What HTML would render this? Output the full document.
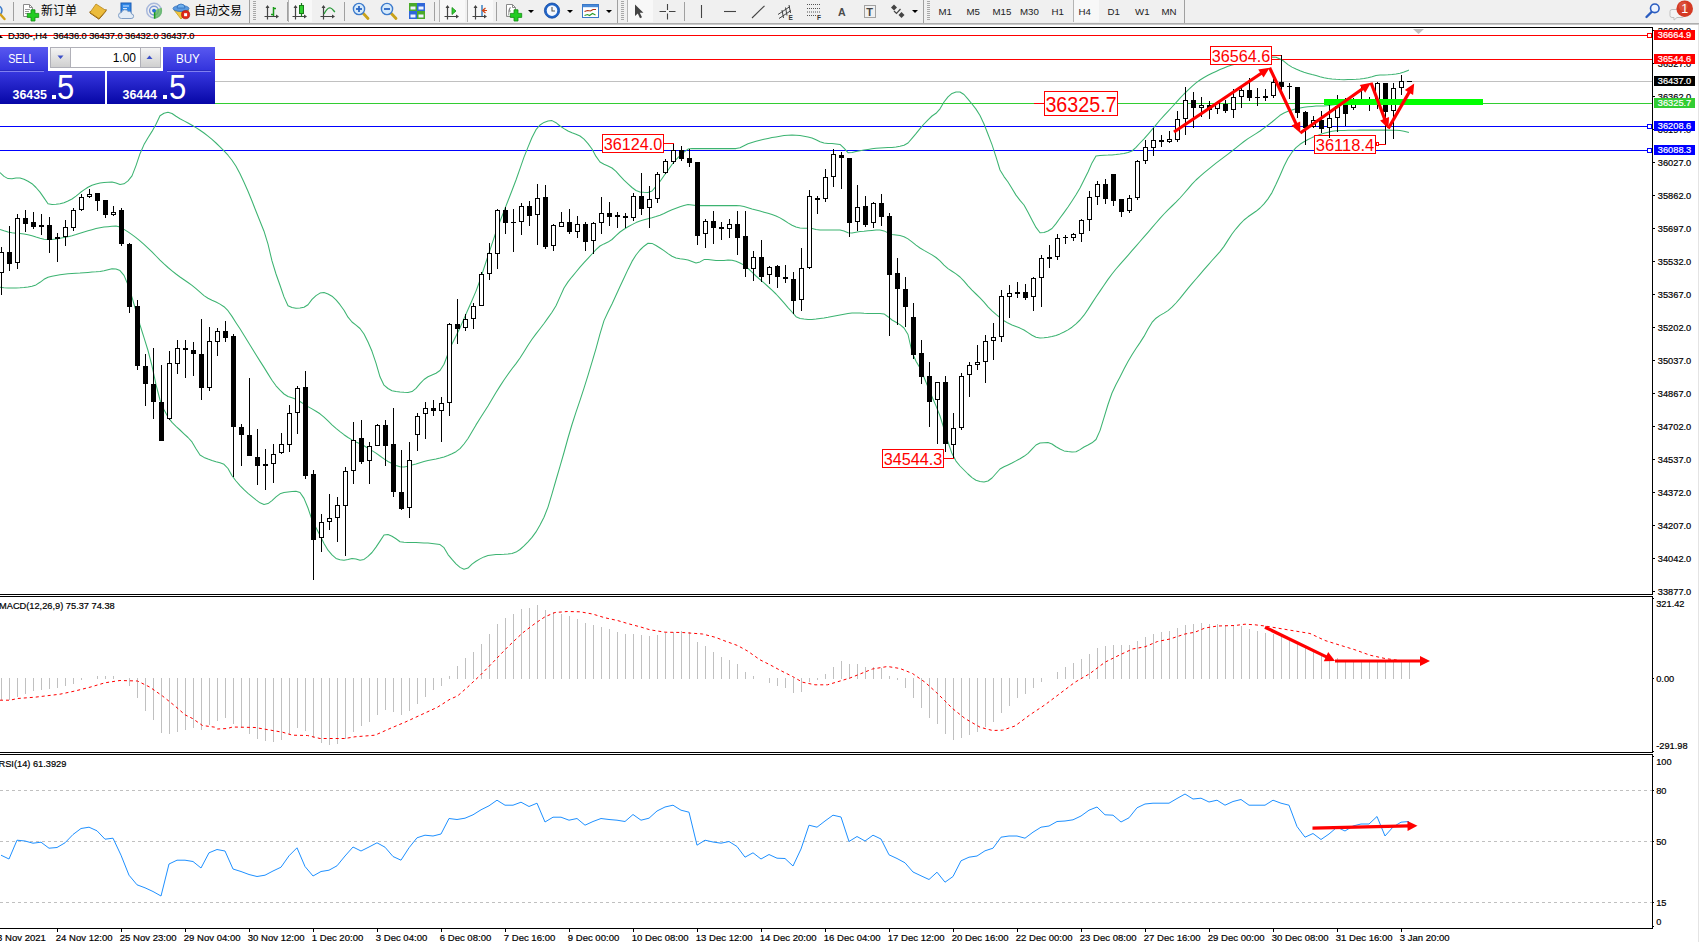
<!DOCTYPE html>
<html><head><meta charset="utf-8"><title>DJ30-,H4</title>
<style>
html,body{margin:0;padding:0;background:#fff;}
body{width:1699px;height:942px;overflow:hidden;position:relative;font-family:"Liberation Sans","Noto Sans CJK SC",sans-serif;}
#tb{position:absolute;left:0;top:0;width:1699px;height:23px;background:#f0f0f0;}
#tbsh{position:absolute;left:0;top:23px;width:1699px;height:2px;background:linear-gradient(#a0a0a0,#d8d8d8);}
#edge{position:absolute;left:1698px;top:25px;width:1px;height:917px;background:#e4e4e4;}
svg text{font-family:"Liberation Sans","Noto Sans CJK SC",sans-serif;}
.tbt{position:absolute;top:0;height:23px;line-height:22.5px;font-size:12px;color:#000;white-space:nowrap;}
.tf{position:absolute;top:0;height:23px;line-height:24px;font-size:9.7px;color:#222;white-space:nowrap;}
.sep{position:absolute;top:2px;width:1px;height:19px;background:#a0a0a0;}
.grip{position:absolute;top:1px;width:3px;height:19px;background:repeating-linear-gradient(#a8a8a8 0 1px,#f0f0f0 1px 2px);}
.act{position:absolute;top:0;height:22px;background:#f8f8f8;border-left:1px solid #b4b4b4;box-sizing:border-box;}
#trade{position:absolute;left:0;top:47px;width:215px;height:57px;}
.bl{position:absolute;background:linear-gradient(#3838e0,#0606a6);}
.btn{position:absolute;color:#fff;font-size:12.5px;line-height:25px;text-align:center;background:linear-gradient(#5858f0,#3232dc);}
.sm{position:absolute;color:#fff;font-weight:bold;font-size:12.4px;line-height:14px;}
.big{position:absolute;color:#fff;font-size:34.5px;line-height:34px;transform:scaleX(0.9);transform-origin:0 0;}
.dot{position:absolute;width:4px;height:4px;background:#fff;}
</style></head><body>
<div id="tb"></div><div id="tbsh"></div><div id="edge"></div>
<div class="act" style="left:288px;width:24px"></div>
<div class="act" style="left:439px;width:26px"></div>
<div class="act" style="left:467px;width:26px"></div>
<div class="act" style="left:627px;width:26px"></div>
<div class="act" style="left:1073px;width:26px"></div>
<div class="sep" style="left:13px"></div>
<div class="sep" style="left:249px;top:0;height:23px"></div>
<div class="sep" style="left:287px"></div>
<div class="sep" style="left:344px"></div>
<div class="sep" style="left:434px"></div>
<div class="sep" style="left:496px"></div>
<div class="sep" style="left:617px;top:0;height:23px"></div>
<div class="sep" style="left:684px"></div>
<div class="sep" style="left:923px;top:0;height:23px"></div>
<div class="sep" style="left:1184px;top:0;height:23px"></div>
<div class="grip" style="left:253px"></div>
<div class="grip" style="left:621px"></div>
<div class="grip" style="left:927px"></div>
<svg style="position:absolute;left:0px;top:3px" width="8" height="18" viewBox="0 0 8 18"><circle cx="-2.5" cy="7.5" r="4.5" fill="#cfe6fa" stroke="#3c78c8" stroke-width="1.5"/><line x1="0.5" y1="11.5" x2="4.5" y2="16" stroke="#d4a017" stroke-width="2.4" stroke-linecap="round"/></svg>
<svg style="position:absolute;left:22px;top:3px" width="18" height="19" viewBox="0 0 18 19"><path d="M1.5 1.5h6l3 3v9h-9z" fill="#fff" stroke="#8a8a8a"/><path d="M7.5 1.5v3h3" fill="none" stroke="#8a8a8a"/><path d="M3 6.5h5M3 8.5h4M3 10.5h3" stroke="#9a9a9a" stroke-width="1"/><path d="M9 6.8h4v3.6h3.7v4h-3.7v3.6h-4v-3.6h-3.7v-4h3.7z" fill="#22cc22" stroke="#128a12" stroke-width="0.8"/></svg>
<div class="tbt" style="left:41px">新订单</div>
<svg style="position:absolute;left:89px;top:3px" width="18" height="17" viewBox="0 0 18 17"><path d="M1 10l9 6.2 7-8.2v-1.5l-7 8-9-6z" fill="#8a5a10" stroke="#8a5a10" stroke-width="1"/><path d="M7 1l10 6.5-7 8-9-6z" fill="#ecbc3c" stroke="#b8861c" stroke-width="0.8"/></svg>
<svg style="position:absolute;left:117px;top:2px" width="18" height="18" viewBox="0 0 18 18"><rect x="4" y="1" width="10" height="10" fill="#2f86e6" stroke="#1c5cb4"/><path d="M6 4h6M6 6.5h4" stroke="#cfe4ff"/><path d="M4.5 16.5a3 3 0 0 1 0-6 3.6 3.6 0 0 1 6.6-1 2.6 2.6 0 0 1 3.4 2.4 2.3 2.3 0 0 1-.4 4.6z" fill="#e3ecf6" stroke="#7d9cc4" stroke-width="1"/></svg>
<svg style="position:absolute;left:145px;top:2px" width="18" height="18" viewBox="0 0 18 18"><circle cx="9" cy="8.6" r="7.3" fill="none" stroke="#a9b9dc" stroke-width="1.5"/><circle cx="9" cy="8.6" r="4.4" fill="none" stroke="#7f9ad6" stroke-width="1.4"/><path d="M9 8.6L16.6 5.8A8.1 8.1 0 0 1 9 16.7z" fill="#5cb85c" opacity="0.8"/><path d="M9.6 9v7.6" stroke="#1a9a1a" stroke-width="1.5"/><circle cx="9" cy="8.6" r="1.9" fill="#2a6fd4"/></svg>
<svg style="position:absolute;left:172px;top:2px" width="19" height="18" viewBox="0 0 19 18"><path d="M2 8l7 9 8-9z" fill="#f2c63c" stroke="#c89a1c" stroke-width="0.8"/><ellipse cx="9" cy="6.5" rx="8" ry="3" fill="#5a9ae0" stroke="#2f6cb8" stroke-width="0.8"/><path d="M5 6a4 4 0 0 1 8 0z" fill="#6fb0ee" stroke="#2f6cb8" stroke-width="0.8"/><circle cx="13.6" cy="12.7" r="4.1" fill="#e02818" stroke="#a01208" stroke-width="0.6"/><rect x="12.1" y="11.2" width="3" height="3" fill="#fff"/></svg>
<div class="tbt" style="left:194px">自动交易</div>
<svg style="position:absolute;left:264px;top:4px" width="16" height="17" viewBox="0 0 16 17"><path d="M3.5 2v13.5M0.5 12.5h13" stroke="#444" stroke-width="1.2" fill="none"/><path d="M3.5 1l-2 3h4zM15 12.5l-3-2v4z" fill="#444"/><path d="M9.5 3v9M9.5 4.5h2.5M7 10.5h2.5" stroke="#1a9a1a" stroke-width="1.5" fill="none"/></svg>
<svg style="position:absolute;left:292px;top:2px" width="16" height="19" viewBox="0 0 16 19"><g transform="translate(0,2)"><path d="M3.5 2v13.5M0.5 12.5h13" stroke="#444" stroke-width="1.2" fill="none"/><path d="M3.5 1l-2 3h4zM15 12.5l-3-2v4z" fill="#444"/></g><path d="M9.5 1v14" stroke="#1a7a1a" stroke-width="1.2"/><rect x="7.5" y="3.5" width="4" height="8" fill="#2fd02f" stroke="#1a7a1a"/></svg>
<svg style="position:absolute;left:320px;top:4px" width="16" height="17" viewBox="0 0 16 17"><path d="M3.5 2v13.5M0.5 12.5h13" stroke="#444" stroke-width="1.2" fill="none"/><path d="M3.5 1l-2 3h4zM15 12.5l-3-2v4z" fill="#444"/><path d="M4 10c2-4 4-7 6.5-6s3 3 4.5 4" stroke="#2a9a3a" stroke-width="1.3" fill="none"/></svg>
<svg style="position:absolute;left:352px;top:2px" width="19" height="19" viewBox="0 0 19 19"><line x1="10" y1="10" x2="16" y2="16.5" stroke="#c9a21a" stroke-width="2.8" stroke-linecap="round"/><circle cx="7" cy="7" r="5.6" fill="#d6eafb" stroke="#3c7acc" stroke-width="1.4"/><path d="M4 7h6" stroke="#2b66c4" stroke-width="1.8"/><path d="M7 4v6" stroke="#2b66c4" stroke-width="1.8"/></svg>
<svg style="position:absolute;left:380px;top:2px" width="19" height="19" viewBox="0 0 19 19"><line x1="10" y1="10" x2="16" y2="16.5" stroke="#c9a21a" stroke-width="2.8" stroke-linecap="round"/><circle cx="7" cy="7" r="5.6" fill="#d6eafb" stroke="#3c7acc" stroke-width="1.4"/><path d="M4 7h6" stroke="#2b66c4" stroke-width="1.8"/></svg>
<svg style="position:absolute;left:409px;top:3px" width="17" height="16" viewBox="0 0 17 16"><rect x="0" y="0" width="8" height="8" fill="#4aaa28"/><rect x="8" y="0" width="8" height="8" fill="#2f66d8"/><rect x="0" y="8" width="8" height="8" fill="#2f66d8"/><rect x="8" y="8" width="8" height="8" fill="#4aaa28"/><g fill="#eef4ff"><rect x="1.5" y="3.5" width="5" height="3"/><rect x="9.5" y="3.5" width="5" height="3"/><rect x="1.5" y="11.5" width="5" height="3"/><rect x="9.5" y="11.5" width="5" height="3"/></g></svg>
<svg style="position:absolute;left:444px;top:4px" width="16" height="17" viewBox="0 0 16 17"><path d="M3.5 2v13.5M0.5 12.5h13" stroke="#444" stroke-width="1.2" fill="none"/><path d="M3.5 1l-2 3h4zM15 12.5l-3-2v4z" fill="#444"/><path d="M8 3.5l4 3.5-4 3.5z" fill="#2fd02f" stroke="#1a8a1a" stroke-width="0.8"/></svg>
<svg style="position:absolute;left:472px;top:4px" width="16" height="17" viewBox="0 0 16 17"><path d="M3.5 2v13.5M0.5 12.5h13" stroke="#444" stroke-width="1.2" fill="none"/><path d="M3.5 1l-2 3h4zM15 12.5l-3-2v4z" fill="#444"/><path d="M10 1v11" stroke="#1f6fb8" stroke-width="1.3"/><path d="M15 6.5h-3.5M13.5 4l-3 2.5 3 2.5" stroke="#d04010" stroke-width="1.2" fill="none"/></svg>
<svg style="position:absolute;left:505px;top:3px" width="18" height="19" viewBox="0 0 18 19"><path d="M1.5 1.5h6l3 3v9h-9z" fill="#fff" stroke="#8a8a8a"/><path d="M7.5 1.5v3h3" fill="none" stroke="#8a8a8a"/><path d="M5.5 4.5c-2 0-1 6-2.5 8M3 8h3" stroke="#9a9a9a" stroke-width="1"/><path d="M9 6.8h4v3.6h3.7v4h-3.7v3.6h-4v-3.6h-3.7v-4h3.7z" fill="#22cc22" stroke="#128a12" stroke-width="0.8"/></svg>
<svg style="position:absolute;left:528px;top:10px" width="6" height="3" viewBox="0 0 6 3"><path d="M0 0h6l-3 3z" fill="#000"/></svg>
<svg style="position:absolute;left:543px;top:2px" width="18" height="18" viewBox="0 0 18 18"><circle cx="9" cy="8.6" r="7.6" fill="#1f64c8" stroke="#1448a0" stroke-width="0.8"/><circle cx="9" cy="8.6" r="5.3" fill="#f4f8ff"/><path d="M9 5v4h3" stroke="#555" stroke-width="1.1" fill="none"/></svg>
<svg style="position:absolute;left:567px;top:10px" width="6" height="3" viewBox="0 0 6 3"><path d="M0 0h6l-3 3z" fill="#000"/></svg>
<svg style="position:absolute;left:582px;top:4px" width="18" height="14" viewBox="0 0 18 14"><rect x="0.5" y="0.5" width="16" height="13" fill="#fff" stroke="#3a78c8"/><rect x="1" y="1" width="15" height="2.2" fill="#4a8ad8"/><path d="M2.5 7.5l3-1 3 .5 2.5-1.5 3 0" stroke="#b03010" stroke-width="1.1" fill="none"/><path d="M2.5 11.5l3-1 2 1 3-2 3 1.5" stroke="#2a9a2a" stroke-width="1.1" fill="none"/></svg>
<svg style="position:absolute;left:606px;top:10px" width="6" height="3" viewBox="0 0 6 3"><path d="M0 0h6l-3 3z" fill="#000"/></svg>
<svg style="position:absolute;left:634px;top:4px" width="10" height="15" viewBox="0 0 10 15"><path d="M1 0.5v11.5l2.8-2.4 2.2 4.6 2-1-2.2-4.4h3.6z" fill="#444"/></svg>
<svg style="position:absolute;left:659px;top:4px" width="17" height="16" viewBox="0 0 17 16"><path d="M8.5 0v6M8.5 9.5v6M0.5 7.5h6.5M10 7.5h6.5" stroke="#444" stroke-width="1.1"/></svg>
<svg style="position:absolute;left:700px;top:5px" width="3" height="13" viewBox="0 0 3 13"><path d="M1.5 0v13" stroke="#444" stroke-width="1.1"/></svg>
<svg style="position:absolute;left:724px;top:10px" width="13" height="3" viewBox="0 0 13 3"><path d="M0 1.5h12" stroke="#444" stroke-width="1.1"/></svg>
<svg style="position:absolute;left:751px;top:5px" width="15" height="14" viewBox="0 0 15 14"><path d="M1 13L13.5 0.8" stroke="#444" stroke-width="1.1"/></svg>
<svg style="position:absolute;left:777px;top:3px" width="18" height="18" viewBox="0 0 18 18"><path d="M1 11.5L13 3.5M2 15.5L14 7.5M5 7l1.5 8M8.5 4.5l1.5 8M12 2l1.5 8" stroke="#444" stroke-width="1"/><text x="11.5" y="17" font-size="6.5" font-weight="bold" fill="#333">E</text></svg>
<svg style="position:absolute;left:806px;top:3px" width="18" height="18" viewBox="0 0 18 18"><path d="M1 1.5h13M1 5.5h13M1 9h13M1 12.5h10" stroke="#555" stroke-width="1" stroke-dasharray="1,1"/><text x="11" y="17" font-size="6.5" font-weight="bold" fill="#333">F</text></svg>
<div class="tf" style="left:837.5px;font-size:11.5px;color:#4a4a4a;top:0;line-height:25px;font-weight:bold;transform:scaleX(0.92);transform-origin:0 0">A</div>
<svg style="position:absolute;left:863px;top:4px" width="14" height="15" viewBox="0 0 14 15"><rect x="1.5" y="1.5" width="11" height="12" fill="none" stroke="#555" stroke-width="1" stroke-dasharray="1,1"/><text x="3.2" y="11.6" font-size="11" font-weight="bold" fill="#444">T</text></svg>
<svg style="position:absolute;left:890px;top:4px" width="16" height="15" viewBox="0 0 16 15"><path d="M4 0.5l3 3-3 3-3-3z" fill="#444"/><path d="M11.5 8l3 3-3 3-3-3z" fill="#444"/><path d="M4 7l2.5 2.5 4-4.5" stroke="#444" stroke-width="1.2" fill="none"/></svg>
<svg style="position:absolute;left:912px;top:10px" width="6" height="3" viewBox="0 0 6 3"><path d="M0 0h6l-3 3z" fill="#000"/></svg>
<div class="tf" style="left:938.5px">M1</div>
<div class="tf" style="left:966.5px">M5</div>
<div class="tf" style="left:992.5px">M15</div>
<div class="tf" style="left:1020px">M30</div>
<div class="tf" style="left:1051.5px">H1</div>
<div class="tf" style="left:1078.5px">H4</div>
<div class="tf" style="left:1107.5px">D1</div>
<div class="tf" style="left:1135px">W1</div>
<div class="tf" style="left:1161.5px">MN</div>
<svg style="position:absolute;left:1644px;top:2px" width="18" height="18" viewBox="0 0 18 18"><line x1="8" y1="9.5" x2="2.5" y2="15" stroke="#2a5cc0" stroke-width="2.4" stroke-linecap="round"/><circle cx="10.8" cy="6.3" r="4.3" fill="#eef4ff" stroke="#2a5cc0" stroke-width="1.6"/></svg>
<svg style="position:absolute;left:1669px;top:0px" width="26" height="22" viewBox="0 0 26 22"><path d="M3 9.5h10a2 2 0 0 1 2 2v4a2 2 0 0 1-2 2H8l-3 2.6V17.5H3a2 2 0 0 1-2-2v-4a2 2 0 0 1 2-2z" fill="#f4f4f4" stroke="#c0c0c0"/><circle cx="15.7" cy="8.7" r="8.3" fill="#d43a24"/><circle cx="14.2" cy="6.2" r="4.5" fill="#e0604c" opacity="0.55"/><text x="12.2" y="13.2" font-size="12.5" fill="#fff">1</text></svg>

<svg width="1699" height="942" viewBox="0 0 1699 942" style="position:absolute;left:0;top:0">
<g shape-rendering="crispEdges">
<rect x="0" y="35" width="1652" height="1" fill="#ff0000"/>
<rect x="215" y="59" width="1437" height="1" fill="#ff0000"/>
<rect x="215" y="81" width="1437" height="1" fill="#c0c0c0"/>
<rect x="215" y="103" width="1437" height="1" fill="#32cd32"/>
<rect x="0" y="126" width="1652" height="1" fill="#0000ff"/>
<rect x="0" y="150" width="1652" height="1" fill="#0000ff"/>
</g>
<polyline points="0.0,172.6 4.0,176.4 8.0,178.6 12.0,178.8 16.0,177.9 20.0,177.9 24.0,179.2 28.0,181.3 32.0,183.7 36.0,187.5 40.0,192.1 44.0,197.9 48.0,203.7 52.0,204.5 56.0,204.2 60.0,203.8 64.0,202.7 68.0,201.0 72.0,199.0 76.0,196.1 80.0,192.8 84.0,189.9 88.0,187.2 92.0,185.3 96.0,184.0 100.0,183.1 104.0,182.6 108.0,182.2 112.0,182.0 116.0,183.1 120.0,184.5 124.0,183.8 128.0,180.8 132.0,175.9 136.0,165.6 140.0,153.7 144.0,144.6 148.0,137.7 152.0,131.4 156.0,124.3 160.0,115.8 164.0,113.2 168.0,112.2 172.0,113.5 176.0,116.3 180.0,118.7 184.0,120.9 188.0,123.0 192.0,125.2 196.0,127.6 200.0,130.2 204.0,133.0 208.0,136.1 212.0,139.4 216.0,143.0 220.0,146.8 224.0,150.8 228.0,155.2 232.0,160.3 236.0,166.2 240.0,173.7 244.0,182.3 248.0,191.2 252.0,201.0 256.0,211.3 260.0,221.2 264.0,231.2 268.0,244.2 272.0,260.9 276.0,274.0 280.0,285.2 284.0,296.9 288.0,305.7 292.0,307.5 296.0,308.2 300.0,308.1 304.0,307.3 308.0,304.7 312.0,299.4 316.0,295.6 320.0,293.1 324.0,292.6 328.0,294.0 332.0,296.2 336.0,299.9 340.0,304.7 344.0,310.3 348.0,317.2 352.0,322.0 356.0,325.1 360.0,328.5 364.0,334.0 368.0,342.0 372.0,351.3 376.0,363.1 380.0,376.8 384.0,385.2 388.0,388.5 392.0,390.7 396.0,391.6 400.0,392.0 404.0,392.3 408.0,392.4 412.0,391.6 416.0,388.3 420.0,383.7 424.0,379.5 428.0,376.8 432.0,375.0 436.0,373.2 440.0,370.5 444.0,364.3 448.0,353.8 452.0,343.9 456.0,335.9 460.0,327.8 464.0,318.6 468.0,309.5 472.0,300.5 476.0,291.1 480.0,280.3 484.0,268.0 488.0,256.0 492.0,243.8 496.0,232.0 500.0,221.3 504.0,211.1 508.0,200.8 512.0,190.5 516.0,180.0 520.0,168.6 524.0,157.1 528.0,147.1 532.0,137.5 536.0,129.7 540.0,125.0 544.0,122.4 548.0,121.1 552.0,120.6 556.0,122.7 560.0,126.0 564.0,128.6 568.0,131.0 572.0,132.8 576.0,134.2 580.0,136.0 584.0,139.2 588.0,143.6 592.0,149.0 596.0,156.4 600.0,162.0 604.0,164.3 608.0,166.0 612.0,168.0 616.0,171.4 620.0,175.8 624.0,180.2 628.0,183.8 632.0,187.5 636.0,190.5 640.0,192.0 644.0,192.3 648.0,192.4 652.0,191.0 656.0,186.4 660.0,181.5 664.0,175.8 668.0,170.2 672.0,164.5 676.0,159.7 680.0,155.7 684.0,152.2 688.0,149.1 692.0,148.6 696.0,148.6 700.0,148.6 704.0,148.6 708.0,148.6 712.0,148.6 716.0,148.6 720.0,148.6 724.0,148.6 728.0,148.6 732.0,148.6 736.0,148.6 740.0,147.7 744.0,145.8 748.0,143.8 752.0,142.4 756.0,141.2 760.0,140.2 764.0,139.2 768.0,138.4 772.0,137.6 776.0,136.9 780.0,136.2 784.0,135.6 788.0,135.2 792.0,135.0 796.0,135.2 800.0,135.6 804.0,136.2 808.0,137.0 812.0,138.0 816.0,139.8 820.0,141.8 824.0,143.0 828.0,143.4 832.0,143.6 836.0,143.9 840.0,144.4 844.0,148.2 848.0,152.7 852.0,152.6 856.0,151.5 860.0,150.7 864.0,150.0 868.0,149.4 872.0,148.8 876.0,148.3 880.0,148.0 884.0,147.8 888.0,147.6 892.0,147.4 896.0,147.0 900.0,146.3 904.0,145.3 908.0,143.0 912.0,138.3 916.0,133.7 920.0,128.7 924.0,124.0 928.0,119.8 932.0,116.0 936.0,113.3 940.0,108.8 944.0,102.0 948.0,96.9 952.0,93.4 956.0,92.0 960.0,92.0 964.0,94.5 968.0,99.2 972.0,104.0 976.0,109.1 980.0,115.5 984.0,124.0 988.0,134.3 992.0,144.6 996.0,156.8 1000.0,170.0 1004.0,176.6 1008.0,182.0 1012.0,188.6 1016.0,195.1 1020.0,200.4 1024.0,205.0 1028.0,212.3 1032.0,220.0 1036.0,227.4 1040.0,232.7 1044.0,232.6 1048.0,231.0 1052.0,228.5 1056.0,223.6 1060.0,218.0 1064.0,212.6 1068.0,207.0 1072.0,201.0 1076.0,194.8 1080.0,188.0 1084.0,180.1 1088.0,172.0 1092.0,162.9 1096.0,156.0 1100.0,155.4 1104.0,155.2 1108.0,155.1 1112.0,154.9 1116.0,154.5 1120.0,154.0 1124.0,153.4 1128.0,152.5 1132.0,151.0 1136.0,147.3 1140.0,143.0 1144.0,138.8 1148.0,134.3 1152.0,129.6 1156.0,124.8 1160.0,120.0 1164.0,115.6 1168.0,111.3 1172.0,107.0 1176.0,102.6 1180.0,98.1 1184.0,94.0 1188.0,90.1 1192.0,86.4 1196.0,82.9 1200.0,80.0 1204.0,77.5 1208.0,75.3 1212.0,73.2 1216.0,71.4 1220.0,69.6 1224.0,67.9 1228.0,66.3 1232.0,65.0 1236.0,63.9 1240.0,63.0 1244.0,62.2 1248.0,61.4 1252.0,60.5 1256.0,59.3 1260.0,58.3 1264.0,57.8 1268.0,57.3 1272.0,57.0 1276.0,57.3 1280.0,59.0 1284.0,61.3 1288.0,64.6 1292.0,67.1 1296.0,69.0 1300.0,70.7 1304.0,72.2 1308.0,73.4 1312.0,74.6 1316.0,75.6 1320.0,76.7 1324.0,77.7 1328.0,78.4 1332.0,78.9 1336.0,79.3 1340.0,79.6 1344.0,79.7 1348.0,79.6 1352.0,79.5 1356.0,79.3 1360.0,79.0 1364.0,78.4 1368.0,77.7 1372.0,76.7 1376.0,75.4 1380.0,75.1 1384.0,74.9 1388.0,74.8 1392.0,74.4 1396.0,73.9 1400.0,73.2 1404.0,72.1 1408.0,70.4 1408.9,70.0" fill="none" stroke="#3cb371" stroke-width="1.05" stroke-linejoin="round"/>
<polyline points="0.0,229.4 4.0,230.8 8.0,232.0 12.0,232.8 16.0,233.3 20.0,233.6 24.0,234.1 28.0,234.8 32.0,235.8 36.0,237.1 40.0,238.3 44.0,239.2 48.0,239.6 52.0,239.4 56.0,239.0 60.0,238.3 64.0,237.5 68.0,236.7 72.0,235.7 76.0,234.5 80.0,233.2 84.0,231.9 88.0,230.8 92.0,229.7 96.0,228.6 100.0,227.7 104.0,227.1 108.0,226.7 112.0,226.3 116.0,226.1 120.0,226.9 124.0,229.4 128.0,231.9 132.0,234.6 136.0,237.6 140.0,240.9 144.0,244.4 148.0,248.1 152.0,251.9 156.0,256.0 160.0,260.1 164.0,263.9 168.0,267.5 172.0,270.8 176.0,274.0 180.0,277.0 184.0,279.8 188.0,282.5 192.0,285.4 196.0,288.7 200.0,292.2 204.0,295.6 208.0,298.2 212.0,300.2 216.0,302.0 220.0,304.1 224.0,306.7 228.0,310.7 232.0,316.4 236.0,322.7 240.0,328.8 244.0,335.2 248.0,341.8 252.0,348.2 256.0,354.7 260.0,361.1 264.0,367.4 268.0,373.9 272.0,380.2 276.0,385.8 280.0,390.2 284.0,394.0 288.0,396.5 292.0,397.8 296.0,399.2 300.0,401.5 304.0,404.1 308.0,406.6 312.0,408.9 316.0,411.2 320.0,413.8 324.0,417.1 328.0,420.9 332.0,424.8 336.0,428.3 340.0,431.6 344.0,434.7 348.0,437.5 352.0,439.9 356.0,441.9 360.0,443.7 364.0,445.8 368.0,448.2 372.0,450.6 376.0,453.1 380.0,456.0 384.0,458.9 388.0,461.5 392.0,463.5 396.0,465.4 400.0,466.7 404.0,466.9 408.0,466.2 412.0,465.1 416.0,464.1 420.0,462.8 424.0,461.6 428.0,460.6 432.0,459.8 436.0,459.1 440.0,458.1 444.0,457.0 448.0,455.6 452.0,453.8 456.0,451.7 460.0,448.7 464.0,444.0 468.0,438.5 472.0,431.8 476.0,424.9 480.0,418.5 484.0,412.3 488.0,406.0 492.0,399.3 496.0,392.6 500.0,386.1 504.0,380.0 508.0,374.2 512.0,368.8 516.0,363.6 520.0,358.0 524.0,351.7 528.0,345.2 532.0,339.3 536.0,333.9 540.0,328.8 544.0,323.5 548.0,317.9 552.0,312.3 556.0,305.8 560.0,296.9 564.0,288.0 568.0,281.9 572.0,276.8 576.0,272.0 580.0,267.2 584.0,262.7 588.0,258.3 592.0,254.0 596.0,249.6 600.0,246.0 604.0,243.9 608.0,242.1 612.0,239.5 616.0,235.6 620.0,232.0 624.0,229.3 628.0,226.8 632.0,224.6 636.0,222.6 640.0,221.0 644.0,219.7 648.0,218.7 652.0,217.7 656.0,216.6 660.0,215.3 664.0,213.5 668.0,211.5 672.0,209.8 676.0,208.3 680.0,206.7 684.0,205.4 688.0,204.5 692.0,205.0 696.0,205.6 700.0,205.6 704.0,205.6 708.0,205.6 712.0,205.6 716.0,205.6 720.0,205.6 724.0,205.6 728.0,205.6 732.0,205.6 736.0,205.6 740.0,205.7 744.0,206.6 748.0,207.8 752.0,209.0 756.0,210.0 760.0,211.1 764.0,212.2 768.0,213.3 772.0,214.6 776.0,216.0 780.0,217.9 784.0,220.3 788.0,222.9 792.0,225.3 796.0,227.1 800.0,228.0 804.0,228.2 808.0,228.3 812.0,228.6 816.0,229.5 820.0,230.0 824.0,230.0 828.0,230.0 832.0,230.0 836.0,230.0 840.0,230.0 844.0,231.1 848.0,232.7 852.0,232.9 856.0,232.2 860.0,231.6 864.0,231.2 868.0,230.7 872.0,230.4 876.0,230.1 880.0,230.0 884.0,230.9 888.0,232.9 892.0,234.4 896.0,235.0 900.0,235.6 904.0,236.7 908.0,238.9 912.0,241.9 916.0,245.1 920.0,248.0 924.0,250.4 928.0,252.6 932.0,254.9 936.0,257.5 940.0,260.8 944.0,265.1 948.0,268.6 952.0,271.3 956.0,273.9 960.0,277.0 964.0,281.1 968.0,285.8 972.0,290.1 976.0,294.0 980.0,297.9 984.0,302.2 988.0,306.9 992.0,310.9 996.0,314.4 1000.0,317.6 1004.0,320.7 1008.0,323.1 1012.0,324.9 1016.0,326.5 1020.0,328.1 1024.0,330.0 1028.0,332.6 1032.0,335.2 1036.0,337.2 1040.0,338.0 1044.0,337.8 1048.0,337.3 1052.0,336.6 1056.0,335.5 1060.0,333.9 1064.0,332.0 1068.0,329.9 1072.0,327.2 1076.0,323.8 1080.0,320.0 1084.0,315.2 1088.0,309.4 1092.0,303.1 1096.0,297.0 1100.0,291.1 1104.0,285.2 1108.0,279.4 1112.0,274.0 1116.0,269.0 1120.0,264.3 1124.0,259.8 1128.0,255.3 1132.0,250.7 1136.0,246.1 1140.0,241.5 1144.0,236.9 1148.0,232.3 1152.0,227.7 1156.0,223.0 1160.0,218.4 1164.0,214.0 1168.0,209.9 1172.0,206.0 1176.0,202.1 1180.0,198.0 1184.0,193.5 1188.0,188.8 1192.0,184.2 1196.0,180.0 1200.0,176.3 1204.0,172.9 1208.0,169.6 1212.0,166.4 1216.0,163.2 1220.0,160.2 1224.0,157.1 1228.0,154.1 1232.0,151.0 1236.0,147.8 1240.0,144.6 1244.0,141.5 1248.0,138.6 1252.0,136.1 1256.0,133.6 1260.0,131.0 1264.0,128.1 1268.0,125.1 1272.0,122.0 1276.0,118.6 1280.0,115.3 1284.0,113.0 1288.0,111.3 1292.0,110.0 1296.0,108.8 1300.0,107.9 1304.0,107.3 1308.0,106.8 1312.0,106.4 1316.0,106.1 1320.0,106.0 1324.0,105.9 1328.0,105.5 1332.0,105.0 1336.0,104.4 1340.0,104.0 1344.0,103.7 1348.0,103.5 1352.0,103.4 1356.0,103.2 1360.0,103.0 1364.0,102.8 1368.0,102.6 1372.0,102.4 1376.0,102.2 1380.0,102.0 1384.0,101.8 1388.0,101.7 1392.0,101.5 1396.0,101.4 1400.0,101.3 1404.0,101.1 1408.0,101.0 1409.0,101.0" fill="none" stroke="#3cb371" stroke-width="1.05" stroke-linejoin="round"/>
<polyline points="0.0,287.3 4.0,287.7 8.0,287.9 12.0,288.0 16.0,288.0 20.0,287.8 24.0,287.5 28.0,286.9 32.0,286.2 36.0,284.9 40.0,282.3 44.0,279.3 48.0,277.2 52.0,276.2 56.0,275.4 60.0,274.8 64.0,274.2 68.0,273.8 72.0,273.5 76.0,273.2 80.0,273.0 84.0,272.7 88.0,272.4 92.0,272.1 96.0,271.8 100.0,271.4 104.0,270.8 108.0,269.7 112.0,268.8 116.0,269.0 120.0,270.6 124.0,275.4 128.0,284.9 132.0,297.3 136.0,311.0 140.0,325.0 144.0,337.7 148.0,350.5 152.0,365.8 156.0,384.7 160.0,400.0 164.0,409.7 168.0,417.1 172.0,422.4 176.0,426.3 180.0,430.0 184.0,433.8 188.0,437.5 192.0,441.9 196.0,448.7 200.0,455.0 204.0,457.4 208.0,459.1 212.0,460.5 216.0,461.7 220.0,462.8 224.0,464.3 228.0,468.5 232.0,475.8 236.0,481.0 240.0,485.6 244.0,489.7 248.0,493.3 252.0,496.6 256.0,499.8 260.0,502.8 264.0,504.4 268.0,503.6 272.0,500.6 276.0,496.9 280.0,493.8 284.0,492.6 288.0,492.0 292.0,491.6 296.0,491.3 300.0,492.5 304.0,498.4 308.0,508.0 312.0,519.8 316.0,527.7 320.0,535.3 324.0,543.5 328.0,550.2 332.0,554.9 336.0,558.4 340.0,559.8 344.0,560.3 348.0,559.5 352.0,558.4 356.0,558.9 360.0,560.2 364.0,559.4 368.0,556.4 372.0,552.5 376.0,547.1 380.0,541.1 384.0,535.0 388.0,534.5 392.0,536.3 396.0,538.8 400.0,541.7 404.0,542.3 408.0,542.4 412.0,542.5 416.0,542.5 420.0,542.7 424.0,542.9 428.0,543.1 432.0,543.5 436.0,544.0 440.0,544.6 444.0,547.7 448.0,554.6 452.0,559.4 456.0,563.8 460.0,567.4 464.0,569.3 468.0,568.1 472.0,564.1 476.0,561.2 480.0,558.9 484.0,556.9 488.0,555.6 492.0,554.9 496.0,554.6 500.0,554.4 504.0,554.2 508.0,553.9 512.0,553.4 516.0,552.1 520.0,549.5 524.0,545.9 528.0,541.8 532.0,537.4 536.0,531.9 540.0,525.1 544.0,517.2 548.0,507.1 552.0,493.8 556.0,480.0 560.0,466.4 564.0,452.5 568.0,438.0 572.0,424.5 576.0,412.2 580.0,400.3 584.0,388.2 588.0,375.3 592.0,362.2 596.0,348.6 600.0,333.8 604.0,320.6 608.0,312.0 612.0,304.0 616.0,295.2 620.0,286.5 624.0,278.0 628.0,269.4 632.0,261.4 636.0,255.0 640.0,250.0 644.0,246.2 648.0,243.3 652.0,243.4 656.0,245.5 660.0,248.0 664.0,250.6 668.0,253.6 672.0,256.3 676.0,258.0 680.0,258.8 684.0,259.3 688.0,260.0 692.0,261.5 696.0,262.9 700.0,261.9 704.0,259.6 708.0,259.5 712.0,259.9 716.0,260.4 720.0,260.6 724.0,260.4 728.0,260.1 732.0,260.2 736.0,261.3 740.0,263.0 744.0,265.1 748.0,268.4 752.0,272.2 756.0,276.0 760.0,279.5 764.0,282.9 768.0,286.5 772.0,290.1 776.0,294.0 780.0,298.3 784.0,302.9 788.0,307.6 792.0,312.0 796.0,316.7 800.0,318.4 804.0,319.1 808.0,319.5 812.0,319.4 816.0,319.0 820.0,318.4 824.0,317.9 828.0,317.2 832.0,316.4 836.0,315.7 840.0,315.0 844.0,314.3 848.0,313.6 852.0,313.1 856.0,313.0 860.0,313.1 864.0,313.3 868.0,313.4 872.0,313.4 876.0,313.4 880.0,313.4 884.0,313.9 888.0,316.7 892.0,320.0 896.0,322.3 900.0,324.6 904.0,328.0 908.0,334.5 912.0,352.0 916.0,361.2 920.0,368.0 924.0,377.3 928.0,387.1 932.0,396.7 936.0,405.9 940.0,416.0 944.0,428.9 948.0,442.0 952.0,453.6 956.0,461.1 960.0,466.0 964.0,470.0 968.0,474.0 972.0,477.6 976.0,480.3 980.0,481.4 984.0,482.0 988.0,481.0 992.0,478.0 996.0,473.5 1000.0,469.0 1004.0,466.7 1008.0,464.9 1012.0,463.0 1016.0,460.9 1020.0,458.7 1024.0,456.3 1028.0,453.3 1032.0,449.1 1036.0,445.0 1040.0,443.0 1044.0,442.7 1048.0,442.6 1052.0,444.0 1056.0,446.8 1060.0,449.0 1064.0,450.9 1068.0,451.6 1072.0,452.0 1076.0,451.7 1080.0,449.6 1084.0,447.0 1088.0,445.0 1092.0,442.8 1096.0,439.5 1100.0,430.6 1104.0,417.7 1108.0,404.5 1112.0,393.0 1116.0,384.5 1120.0,377.0 1124.0,369.1 1128.0,361.5 1132.0,354.7 1136.0,348.5 1140.0,342.6 1144.0,336.4 1148.0,329.1 1152.0,322.4 1156.0,318.2 1160.0,315.4 1164.0,313.1 1168.0,310.6 1172.0,307.2 1176.0,303.0 1180.0,298.3 1184.0,293.3 1188.0,288.4 1192.0,283.7 1196.0,279.0 1200.0,274.4 1204.0,269.7 1208.0,265.1 1212.0,260.5 1216.0,256.1 1220.0,251.6 1224.0,246.4 1228.0,240.1 1232.0,234.0 1236.0,228.8 1240.0,224.1 1244.0,220.0 1248.0,216.8 1252.0,214.0 1256.0,211.3 1260.0,208.0 1264.0,203.9 1268.0,198.9 1272.0,192.6 1276.0,184.3 1280.0,175.5 1284.0,166.2 1288.0,158.3 1292.0,152.2 1296.0,147.6 1300.0,144.3 1304.0,141.7 1308.0,139.5 1312.0,137.6 1316.0,136.0 1320.0,134.6 1324.0,133.3 1328.0,132.2 1332.0,131.2 1336.0,130.8 1340.0,130.6 1344.0,130.4 1348.0,130.3 1352.0,130.2 1356.0,130.2 1360.0,130.1 1364.0,130.1 1368.0,130.1 1372.0,130.1 1376.0,130.1 1380.0,130.1 1384.0,130.1 1388.0,130.1 1392.0,130.2 1396.0,130.3 1400.0,130.6 1404.0,131.3 1408.0,132.2 1408.9,132.4" fill="none" stroke="#3cb371" stroke-width="1.05" stroke-linejoin="round"/>
<g shape-rendering="crispEdges" fill="#ff0000">
<rect x="664" y="143" width="10" height="1"/>
<rect x="1272" y="55" width="10" height="1"/>
<rect x="944" y="458" width="10" height="1"/>
<rect x="1034" y="103" width="10" height="1"/>
<rect x="1376" y="144" width="10" height="1"/>
<rect x="1376" y="142" width="3" height="4"/><rect x="1377" y="143" width="1" height="2" fill="#fff"/>
</g>
<rect x="602.5" y="134.5" width="61" height="18" fill="#fff" stroke="#ff0000" stroke-width="1" shape-rendering="crispEdges"/>
<text x="603.7" y="150.0" font-size="16.7" fill="#ff0000" textLength="58.6" lengthAdjust="spacingAndGlyphs">36124.0</text>
<rect x="1210.5" y="46.5" width="61" height="18" fill="#fff" stroke="#ff0000" stroke-width="1" shape-rendering="crispEdges"/>
<text x="1211.7" y="62.0" font-size="16.7" fill="#ff0000" textLength="58.6" lengthAdjust="spacingAndGlyphs">36564.6</text>
<rect x="882.5" y="449.5" width="61" height="18" fill="#fff" stroke="#ff0000" stroke-width="1" shape-rendering="crispEdges"/>
<text x="883.7" y="465.0" font-size="16.7" fill="#ff0000" textLength="58.6" lengthAdjust="spacingAndGlyphs">34544.3</text>
<rect x="1314.5" y="135.5" width="61" height="18" fill="#fff" stroke="#ff0000" stroke-width="1" shape-rendering="crispEdges"/>
<text x="1315.7" y="151.0" font-size="16.7" fill="#ff0000" textLength="58.6" lengthAdjust="spacingAndGlyphs">36118.4</text>
<rect x="1044.5" y="91.5" width="73" height="24" fill="#fff" stroke="#ff0000" stroke-width="1" shape-rendering="crispEdges"/>
<text x="1045.4" y="112.0" font-size="22.3" fill="#ff0000" textLength="71.2" lengthAdjust="spacingAndGlyphs">36325.7</text>
<g shape-rendering="crispEdges">
<rect x="1" y="247" width="1" height="48" fill="#000"/>
<rect x="-0.5" y="252.5" width="4" height="20" fill="#fff" stroke="#000" stroke-width="1"/>
<rect x="9" y="226" width="1" height="45" fill="#000"/>
<rect x="7" y="252" width="5" height="12" fill="#000"/>
<rect x="17" y="214" width="1" height="55" fill="#000"/>
<rect x="15.5" y="218.5" width="4" height="44" fill="#fff" stroke="#000" stroke-width="1"/>
<rect x="25" y="210" width="1" height="22" fill="#000"/>
<rect x="23" y="218" width="5" height="6" fill="#000"/>
<rect x="33" y="212" width="1" height="17" fill="#000"/>
<rect x="31" y="222" width="5" height="5" fill="#000"/>
<rect x="41" y="214" width="1" height="21" fill="#000"/>
<rect x="39" y="225" width="5" height="2" fill="#000"/>
<rect x="49" y="217" width="1" height="36" fill="#000"/>
<rect x="47" y="225" width="5" height="15" fill="#000"/>
<rect x="57" y="233" width="1" height="29" fill="#000"/>
<rect x="55" y="237" width="5" height="2" fill="#000"/>
<rect x="65" y="220" width="1" height="26" fill="#000"/>
<rect x="63.5" y="227.5" width="4" height="9" fill="#fff" stroke="#000" stroke-width="1"/>
<rect x="73" y="208" width="1" height="23" fill="#000"/>
<rect x="71.5" y="210.5" width="4" height="17" fill="#fff" stroke="#000" stroke-width="1"/>
<rect x="81" y="194" width="1" height="17" fill="#000"/>
<rect x="79.5" y="197.5" width="4" height="12" fill="#fff" stroke="#000" stroke-width="1"/>
<rect x="89" y="189" width="1" height="9" fill="#000"/>
<rect x="87.5" y="194.5" width="4" height="2" fill="#fff" stroke="#000" stroke-width="1"/>
<rect x="97" y="193" width="1" height="18" fill="#000"/>
<rect x="95" y="193" width="5" height="8" fill="#000"/>
<rect x="105" y="200" width="1" height="18" fill="#000"/>
<rect x="103" y="200" width="5" height="15" fill="#000"/>
<rect x="113" y="206" width="1" height="10" fill="#000"/>
<rect x="111.5" y="212.5" width="4" height="2" fill="#fff" stroke="#000" stroke-width="1"/>
<rect x="121" y="208" width="1" height="38" fill="#000"/>
<rect x="119" y="210" width="5" height="34" fill="#000"/>
<rect x="129" y="243" width="1" height="70" fill="#000"/>
<rect x="127" y="244" width="5" height="63" fill="#000"/>
<rect x="137" y="300" width="1" height="70" fill="#000"/>
<rect x="135" y="306" width="5" height="60" fill="#000"/>
<rect x="145" y="354" width="1" height="52" fill="#000"/>
<rect x="143" y="366" width="5" height="18" fill="#000"/>
<rect x="153" y="348" width="1" height="71" fill="#000"/>
<rect x="151" y="384" width="5" height="18" fill="#000"/>
<rect x="161" y="365" width="1" height="76" fill="#000"/>
<rect x="159" y="402" width="5" height="39" fill="#000"/>
<rect x="169" y="351" width="1" height="69" fill="#000"/>
<rect x="167.5" y="363.5" width="4" height="55" fill="#fff" stroke="#000" stroke-width="1"/>
<rect x="177" y="340" width="1" height="34" fill="#000"/>
<rect x="175.5" y="348.5" width="4" height="15" fill="#fff" stroke="#000" stroke-width="1"/>
<rect x="185" y="340" width="1" height="38" fill="#000"/>
<rect x="183" y="348" width="5" height="2" fill="#000"/>
<rect x="193" y="342" width="1" height="34" fill="#000"/>
<rect x="191" y="350" width="5" height="4" fill="#000"/>
<rect x="201" y="319" width="1" height="81" fill="#000"/>
<rect x="199" y="354" width="5" height="34" fill="#000"/>
<rect x="209" y="327" width="1" height="64" fill="#000"/>
<rect x="207.5" y="341.5" width="4" height="46" fill="#fff" stroke="#000" stroke-width="1"/>
<rect x="217" y="328" width="1" height="28" fill="#000"/>
<rect x="215.5" y="331.5" width="4" height="10" fill="#fff" stroke="#000" stroke-width="1"/>
<rect x="225" y="321" width="1" height="21" fill="#000"/>
<rect x="223" y="331" width="5" height="7" fill="#000"/>
<rect x="233" y="334" width="1" height="143" fill="#000"/>
<rect x="231" y="336" width="5" height="91" fill="#000"/>
<rect x="241" y="424" width="1" height="42" fill="#000"/>
<rect x="239" y="427" width="5" height="8" fill="#000"/>
<rect x="249" y="378" width="1" height="78" fill="#000"/>
<rect x="247" y="435" width="5" height="21" fill="#000"/>
<rect x="257" y="429" width="1" height="56" fill="#000"/>
<rect x="255" y="457" width="5" height="9" fill="#000"/>
<rect x="265" y="449" width="1" height="41" fill="#000"/>
<rect x="263" y="464" width="5" height="2" fill="#000"/>
<rect x="273" y="444" width="1" height="39" fill="#000"/>
<rect x="271.5" y="454.5" width="4" height="9" fill="#fff" stroke="#000" stroke-width="1"/>
<rect x="281" y="433" width="1" height="21" fill="#000"/>
<rect x="279.5" y="444.5" width="4" height="8" fill="#fff" stroke="#000" stroke-width="1"/>
<rect x="289" y="405" width="1" height="47" fill="#000"/>
<rect x="287.5" y="413.5" width="4" height="31" fill="#fff" stroke="#000" stroke-width="1"/>
<rect x="297" y="386" width="1" height="48" fill="#000"/>
<rect x="295.5" y="388.5" width="4" height="24" fill="#fff" stroke="#000" stroke-width="1"/>
<rect x="305" y="371" width="1" height="108" fill="#000"/>
<rect x="303" y="387" width="5" height="89" fill="#000"/>
<rect x="313" y="470" width="1" height="110" fill="#000"/>
<rect x="311" y="474" width="5" height="66" fill="#000"/>
<rect x="321" y="514" width="1" height="38" fill="#000"/>
<rect x="319.5" y="522.5" width="4" height="15" fill="#fff" stroke="#000" stroke-width="1"/>
<rect x="329" y="494" width="1" height="36" fill="#000"/>
<rect x="327.5" y="518.5" width="4" height="3" fill="#fff" stroke="#000" stroke-width="1"/>
<rect x="337" y="497" width="1" height="45" fill="#000"/>
<rect x="335.5" y="505.5" width="4" height="12" fill="#fff" stroke="#000" stroke-width="1"/>
<rect x="345" y="467" width="1" height="89" fill="#000"/>
<rect x="343.5" y="471.5" width="4" height="34" fill="#fff" stroke="#000" stroke-width="1"/>
<rect x="353" y="422" width="1" height="62" fill="#000"/>
<rect x="351.5" y="440.5" width="4" height="30" fill="#fff" stroke="#000" stroke-width="1"/>
<rect x="361" y="420" width="1" height="44" fill="#000"/>
<rect x="359" y="438" width="5" height="24" fill="#000"/>
<rect x="369" y="442" width="1" height="42" fill="#000"/>
<rect x="367.5" y="446.5" width="4" height="14" fill="#fff" stroke="#000" stroke-width="1"/>
<rect x="377" y="424" width="1" height="22" fill="#000"/>
<rect x="375.5" y="425.5" width="4" height="20" fill="#fff" stroke="#000" stroke-width="1"/>
<rect x="385" y="420" width="1" height="46" fill="#000"/>
<rect x="383" y="425" width="5" height="21" fill="#000"/>
<rect x="393" y="408" width="1" height="89" fill="#000"/>
<rect x="391" y="444" width="5" height="48" fill="#000"/>
<rect x="401" y="450" width="1" height="60" fill="#000"/>
<rect x="399" y="492" width="5" height="17" fill="#000"/>
<rect x="409" y="442" width="1" height="76" fill="#000"/>
<rect x="407.5" y="460.5" width="4" height="47" fill="#fff" stroke="#000" stroke-width="1"/>
<rect x="417" y="413" width="1" height="38" fill="#000"/>
<rect x="415.5" y="416.5" width="4" height="18" fill="#fff" stroke="#000" stroke-width="1"/>
<rect x="425" y="402" width="1" height="37" fill="#000"/>
<rect x="423.5" y="408.5" width="4" height="5" fill="#fff" stroke="#000" stroke-width="1"/>
<rect x="433" y="400" width="1" height="16" fill="#000"/>
<rect x="431" y="408" width="5" height="3" fill="#000"/>
<rect x="441" y="397" width="1" height="45" fill="#000"/>
<rect x="439.5" y="403.5" width="4" height="7" fill="#fff" stroke="#000" stroke-width="1"/>
<rect x="449" y="323" width="1" height="93" fill="#000"/>
<rect x="447.5" y="324.5" width="4" height="78" fill="#fff" stroke="#000" stroke-width="1"/>
<rect x="457" y="299" width="1" height="45" fill="#000"/>
<rect x="455" y="324" width="5" height="5" fill="#000"/>
<rect x="465" y="314" width="1" height="17" fill="#000"/>
<rect x="463.5" y="319.5" width="4" height="8" fill="#fff" stroke="#000" stroke-width="1"/>
<rect x="473" y="303" width="1" height="26" fill="#000"/>
<rect x="471.5" y="306.5" width="4" height="12" fill="#fff" stroke="#000" stroke-width="1"/>
<rect x="481" y="272" width="1" height="34" fill="#000"/>
<rect x="479.5" y="274.5" width="4" height="31" fill="#fff" stroke="#000" stroke-width="1"/>
<rect x="489" y="243" width="1" height="37" fill="#000"/>
<rect x="487.5" y="253.5" width="4" height="20" fill="#fff" stroke="#000" stroke-width="1"/>
<rect x="497" y="209" width="1" height="60" fill="#000"/>
<rect x="495.5" y="210.5" width="4" height="43" fill="#fff" stroke="#000" stroke-width="1"/>
<rect x="505" y="207" width="1" height="27" fill="#000"/>
<rect x="503" y="210" width="5" height="13" fill="#000"/>
<rect x="513" y="209" width="1" height="43" fill="#000"/>
<rect x="511" y="222" width="5" height="1" fill="#000"/>
<rect x="521" y="203" width="1" height="32" fill="#000"/>
<rect x="519.5" y="206.5" width="4" height="15" fill="#fff" stroke="#000" stroke-width="1"/>
<rect x="529" y="201" width="1" height="25" fill="#000"/>
<rect x="527" y="206" width="5" height="10" fill="#000"/>
<rect x="537" y="184" width="1" height="61" fill="#000"/>
<rect x="535.5" y="198.5" width="4" height="16" fill="#fff" stroke="#000" stroke-width="1"/>
<rect x="545" y="185" width="1" height="64" fill="#000"/>
<rect x="543" y="197" width="5" height="50" fill="#000"/>
<rect x="553" y="224" width="1" height="27" fill="#000"/>
<rect x="551.5" y="225.5" width="4" height="20" fill="#fff" stroke="#000" stroke-width="1"/>
<rect x="561" y="212" width="1" height="15" fill="#000"/>
<rect x="559.5" y="222.5" width="4" height="4" fill="#fff" stroke="#000" stroke-width="1"/>
<rect x="569" y="209" width="1" height="25" fill="#000"/>
<rect x="567" y="222" width="5" height="10" fill="#000"/>
<rect x="577" y="216" width="1" height="22" fill="#000"/>
<rect x="575.5" y="224.5" width="4" height="7" fill="#fff" stroke="#000" stroke-width="1"/>
<rect x="585" y="222" width="1" height="29" fill="#000"/>
<rect x="583" y="224" width="5" height="18" fill="#000"/>
<rect x="593" y="222" width="1" height="32" fill="#000"/>
<rect x="591.5" y="223.5" width="4" height="17" fill="#fff" stroke="#000" stroke-width="1"/>
<rect x="601" y="197" width="1" height="37" fill="#000"/>
<rect x="599.5" y="213.5" width="4" height="9" fill="#fff" stroke="#000" stroke-width="1"/>
<rect x="609" y="202" width="1" height="24" fill="#000"/>
<rect x="607" y="213" width="5" height="4" fill="#000"/>
<rect x="617" y="212" width="1" height="16" fill="#000"/>
<rect x="615" y="215" width="5" height="2" fill="#000"/>
<rect x="625" y="213" width="1" height="15" fill="#000"/>
<rect x="623" y="216" width="5" height="2" fill="#000"/>
<rect x="633" y="193" width="1" height="28" fill="#000"/>
<rect x="631.5" y="196.5" width="4" height="21" fill="#fff" stroke="#000" stroke-width="1"/>
<rect x="641" y="173" width="1" height="42" fill="#000"/>
<rect x="639" y="196" width="5" height="13" fill="#000"/>
<rect x="649" y="186" width="1" height="42" fill="#000"/>
<rect x="647.5" y="199.5" width="4" height="8" fill="#fff" stroke="#000" stroke-width="1"/>
<rect x="657" y="172" width="1" height="31" fill="#000"/>
<rect x="655.5" y="174.5" width="4" height="24" fill="#fff" stroke="#000" stroke-width="1"/>
<rect x="665" y="159" width="1" height="15" fill="#000"/>
<rect x="663.5" y="161.5" width="4" height="11" fill="#fff" stroke="#000" stroke-width="1"/>
<rect x="673" y="144" width="1" height="20" fill="#000"/>
<rect x="671.5" y="150.5" width="4" height="11" fill="#fff" stroke="#000" stroke-width="1"/>
<rect x="681" y="146" width="1" height="15" fill="#000"/>
<rect x="679" y="150" width="5" height="9" fill="#000"/>
<rect x="689" y="149" width="1" height="18" fill="#000"/>
<rect x="687" y="158" width="5" height="5" fill="#000"/>
<rect x="697" y="162" width="1" height="83" fill="#000"/>
<rect x="695" y="162" width="5" height="74" fill="#000"/>
<rect x="705" y="219" width="1" height="29" fill="#000"/>
<rect x="703.5" y="221.5" width="4" height="12" fill="#fff" stroke="#000" stroke-width="1"/>
<rect x="713" y="211" width="1" height="33" fill="#000"/>
<rect x="711" y="221" width="5" height="7" fill="#000"/>
<rect x="721" y="222" width="1" height="18" fill="#000"/>
<rect x="719" y="227" width="5" height="2" fill="#000"/>
<rect x="729" y="219" width="1" height="19" fill="#000"/>
<rect x="727.5" y="224.5" width="4" height="4" fill="#fff" stroke="#000" stroke-width="1"/>
<rect x="737" y="211" width="1" height="44" fill="#000"/>
<rect x="735" y="224" width="5" height="14" fill="#000"/>
<rect x="745" y="211" width="1" height="66" fill="#000"/>
<rect x="743" y="236" width="5" height="33" fill="#000"/>
<rect x="753" y="251" width="1" height="30" fill="#000"/>
<rect x="751.5" y="257.5" width="4" height="11" fill="#fff" stroke="#000" stroke-width="1"/>
<rect x="761" y="240" width="1" height="42" fill="#000"/>
<rect x="759" y="257" width="5" height="20" fill="#000"/>
<rect x="769" y="266" width="1" height="18" fill="#000"/>
<rect x="767.5" y="267.5" width="4" height="7" fill="#fff" stroke="#000" stroke-width="1"/>
<rect x="777" y="265" width="1" height="23" fill="#000"/>
<rect x="775" y="266" width="5" height="11" fill="#000"/>
<rect x="785" y="265" width="1" height="18" fill="#000"/>
<rect x="783" y="277" width="5" height="2" fill="#000"/>
<rect x="793" y="272" width="1" height="42" fill="#000"/>
<rect x="791" y="279" width="5" height="22" fill="#000"/>
<rect x="801" y="248" width="1" height="63" fill="#000"/>
<rect x="799.5" y="268.5" width="4" height="31" fill="#fff" stroke="#000" stroke-width="1"/>
<rect x="809" y="190" width="1" height="79" fill="#000"/>
<rect x="807.5" y="196.5" width="4" height="71" fill="#fff" stroke="#000" stroke-width="1"/>
<rect x="817" y="196" width="1" height="18" fill="#000"/>
<rect x="815" y="198" width="5" height="2" fill="#000"/>
<rect x="825" y="169" width="1" height="33" fill="#000"/>
<rect x="823.5" y="177.5" width="4" height="21" fill="#fff" stroke="#000" stroke-width="1"/>
<rect x="833" y="149" width="1" height="38" fill="#000"/>
<rect x="831.5" y="154.5" width="4" height="22" fill="#fff" stroke="#000" stroke-width="1"/>
<rect x="841" y="152" width="1" height="37" fill="#000"/>
<rect x="839" y="155" width="5" height="3" fill="#000"/>
<rect x="849" y="158" width="1" height="79" fill="#000"/>
<rect x="847" y="158" width="5" height="65" fill="#000"/>
<rect x="857" y="185" width="1" height="46" fill="#000"/>
<rect x="855.5" y="207.5" width="4" height="14" fill="#fff" stroke="#000" stroke-width="1"/>
<rect x="865" y="196" width="1" height="31" fill="#000"/>
<rect x="863" y="206" width="5" height="19" fill="#000"/>
<rect x="873" y="202" width="1" height="26" fill="#000"/>
<rect x="871.5" y="203.5" width="4" height="19" fill="#fff" stroke="#000" stroke-width="1"/>
<rect x="881" y="194" width="1" height="32" fill="#000"/>
<rect x="879" y="203" width="5" height="14" fill="#000"/>
<rect x="889" y="213" width="1" height="123" fill="#000"/>
<rect x="887" y="216" width="5" height="59" fill="#000"/>
<rect x="897" y="258" width="1" height="67" fill="#000"/>
<rect x="895" y="273" width="5" height="16" fill="#000"/>
<rect x="905" y="277" width="1" height="50" fill="#000"/>
<rect x="903" y="289" width="5" height="18" fill="#000"/>
<rect x="913" y="303" width="1" height="56" fill="#000"/>
<rect x="911" y="317" width="5" height="38" fill="#000"/>
<rect x="921" y="340" width="1" height="44" fill="#000"/>
<rect x="919" y="353" width="5" height="24" fill="#000"/>
<rect x="929" y="362" width="1" height="65" fill="#000"/>
<rect x="927" y="376" width="5" height="26" fill="#000"/>
<rect x="937" y="382" width="1" height="62" fill="#000"/>
<rect x="935.5" y="382.5" width="4" height="17" fill="#fff" stroke="#000" stroke-width="1"/>
<rect x="945" y="376" width="1" height="76" fill="#000"/>
<rect x="943" y="382" width="5" height="62" fill="#000"/>
<rect x="953" y="413" width="1" height="45" fill="#000"/>
<rect x="951.5" y="428.5" width="4" height="16" fill="#fff" stroke="#000" stroke-width="1"/>
<rect x="961" y="373" width="1" height="57" fill="#000"/>
<rect x="959.5" y="376.5" width="4" height="51" fill="#fff" stroke="#000" stroke-width="1"/>
<rect x="969" y="362" width="1" height="35" fill="#000"/>
<rect x="967.5" y="365.5" width="4" height="9" fill="#fff" stroke="#000" stroke-width="1"/>
<rect x="977" y="345" width="1" height="25" fill="#000"/>
<rect x="975.5" y="362.5" width="4" height="2" fill="#fff" stroke="#000" stroke-width="1"/>
<rect x="985" y="335" width="1" height="48" fill="#000"/>
<rect x="983.5" y="341.5" width="4" height="20" fill="#fff" stroke="#000" stroke-width="1"/>
<rect x="993" y="323" width="1" height="37" fill="#000"/>
<rect x="991.5" y="337.5" width="4" height="3" fill="#fff" stroke="#000" stroke-width="1"/>
<rect x="1001" y="290" width="1" height="52" fill="#000"/>
<rect x="999.5" y="296.5" width="4" height="40" fill="#fff" stroke="#000" stroke-width="1"/>
<rect x="1009" y="285" width="1" height="33" fill="#000"/>
<rect x="1007.5" y="293.5" width="4" height="3" fill="#fff" stroke="#000" stroke-width="1"/>
<rect x="1017" y="282" width="1" height="16" fill="#000"/>
<rect x="1015" y="292" width="5" height="2" fill="#000"/>
<rect x="1025" y="284" width="1" height="16" fill="#000"/>
<rect x="1023" y="292" width="5" height="6" fill="#000"/>
<rect x="1033" y="277" width="1" height="34" fill="#000"/>
<rect x="1031.5" y="278.5" width="4" height="18" fill="#fff" stroke="#000" stroke-width="1"/>
<rect x="1041" y="255" width="1" height="52" fill="#000"/>
<rect x="1039.5" y="258.5" width="4" height="19" fill="#fff" stroke="#000" stroke-width="1"/>
<rect x="1049" y="245" width="1" height="23" fill="#000"/>
<rect x="1047" y="257" width="5" height="2" fill="#000"/>
<rect x="1057" y="234" width="1" height="26" fill="#000"/>
<rect x="1055.5" y="238.5" width="4" height="18" fill="#fff" stroke="#000" stroke-width="1"/>
<rect x="1065" y="235" width="1" height="9" fill="#000"/>
<rect x="1063" y="237" width="5" height="1" fill="#000"/>
<rect x="1073" y="233" width="1" height="8" fill="#000"/>
<rect x="1071.5" y="234.5" width="4" height="3" fill="#fff" stroke="#000" stroke-width="1"/>
<rect x="1081" y="219" width="1" height="23" fill="#000"/>
<rect x="1079.5" y="220.5" width="4" height="13" fill="#fff" stroke="#000" stroke-width="1"/>
<rect x="1089" y="191" width="1" height="40" fill="#000"/>
<rect x="1087.5" y="197.5" width="4" height="22" fill="#fff" stroke="#000" stroke-width="1"/>
<rect x="1097" y="181" width="1" height="24" fill="#000"/>
<rect x="1095.5" y="184.5" width="4" height="12" fill="#fff" stroke="#000" stroke-width="1"/>
<rect x="1105" y="179" width="1" height="25" fill="#000"/>
<rect x="1103" y="184" width="5" height="15" fill="#000"/>
<rect x="1113" y="174" width="1" height="32" fill="#000"/>
<rect x="1111" y="174" width="5" height="27" fill="#000"/>
<rect x="1121" y="199" width="1" height="18" fill="#000"/>
<rect x="1119" y="199" width="5" height="13" fill="#000"/>
<rect x="1129" y="195" width="1" height="18" fill="#000"/>
<rect x="1127.5" y="198.5" width="4" height="12" fill="#fff" stroke="#000" stroke-width="1"/>
<rect x="1137" y="160" width="1" height="40" fill="#000"/>
<rect x="1135.5" y="161.5" width="4" height="36" fill="#fff" stroke="#000" stroke-width="1"/>
<rect x="1145" y="140" width="1" height="24" fill="#000"/>
<rect x="1143.5" y="147.5" width="4" height="13" fill="#fff" stroke="#000" stroke-width="1"/>
<rect x="1153" y="128" width="1" height="28" fill="#000"/>
<rect x="1151.5" y="140.5" width="4" height="7" fill="#fff" stroke="#000" stroke-width="1"/>
<rect x="1161" y="135" width="1" height="12" fill="#000"/>
<rect x="1159" y="140" width="5" height="2" fill="#000"/>
<rect x="1169" y="131" width="1" height="12" fill="#000"/>
<rect x="1167.5" y="139.5" width="4" height="2" fill="#fff" stroke="#000" stroke-width="1"/>
<rect x="1177" y="111" width="1" height="31" fill="#000"/>
<rect x="1175.5" y="119.5" width="4" height="20" fill="#fff" stroke="#000" stroke-width="1"/>
<rect x="1185" y="87" width="1" height="48" fill="#000"/>
<rect x="1183.5" y="100.5" width="4" height="18" fill="#fff" stroke="#000" stroke-width="1"/>
<rect x="1193" y="92" width="1" height="36" fill="#000"/>
<rect x="1191" y="100" width="5" height="8" fill="#000"/>
<rect x="1201" y="97" width="1" height="20" fill="#000"/>
<rect x="1199.5" y="105.5" width="4" height="2" fill="#fff" stroke="#000" stroke-width="1"/>
<rect x="1209" y="101" width="1" height="18" fill="#000"/>
<rect x="1207" y="105" width="5" height="5" fill="#000"/>
<rect x="1217" y="101" width="1" height="13" fill="#000"/>
<rect x="1215.5" y="103.5" width="4" height="5" fill="#fff" stroke="#000" stroke-width="1"/>
<rect x="1225" y="100" width="1" height="13" fill="#000"/>
<rect x="1223" y="104" width="5" height="7" fill="#000"/>
<rect x="1233" y="89" width="1" height="29" fill="#000"/>
<rect x="1231.5" y="97.5" width="4" height="12" fill="#fff" stroke="#000" stroke-width="1"/>
<rect x="1241" y="86" width="1" height="22" fill="#000"/>
<rect x="1239.5" y="90.5" width="4" height="6" fill="#fff" stroke="#000" stroke-width="1"/>
<rect x="1249" y="78" width="1" height="23" fill="#000"/>
<rect x="1247" y="90" width="5" height="8" fill="#000"/>
<rect x="1257" y="88" width="1" height="18" fill="#000"/>
<rect x="1255" y="97" width="5" height="1" fill="#000"/>
<rect x="1265" y="89" width="1" height="12" fill="#000"/>
<rect x="1263" y="96" width="5" height="2" fill="#000"/>
<rect x="1273" y="79" width="1" height="19" fill="#000"/>
<rect x="1271.5" y="82.5" width="4" height="13" fill="#fff" stroke="#000" stroke-width="1"/>
<rect x="1281" y="55" width="1" height="35" fill="#000"/>
<rect x="1279" y="82" width="5" height="5" fill="#000"/>
<rect x="1289" y="83" width="1" height="16" fill="#000"/>
<rect x="1287" y="86" width="5" height="1" fill="#000"/>
<rect x="1297" y="87" width="1" height="31" fill="#000"/>
<rect x="1295" y="87" width="5" height="26" fill="#000"/>
<rect x="1305" y="111" width="1" height="34" fill="#000"/>
<rect x="1303" y="112" width="5" height="16" fill="#000"/>
<rect x="1313" y="116" width="1" height="12" fill="#000"/>
<rect x="1311.5" y="120.5" width="4" height="6" fill="#fff" stroke="#000" stroke-width="1"/>
<rect x="1321" y="111" width="1" height="22" fill="#000"/>
<rect x="1319" y="120" width="5" height="9" fill="#000"/>
<rect x="1329" y="105" width="1" height="33" fill="#000"/>
<rect x="1327.5" y="118.5" width="4" height="9" fill="#fff" stroke="#000" stroke-width="1"/>
<rect x="1337" y="95" width="1" height="37" fill="#000"/>
<rect x="1335.5" y="106.5" width="4" height="11" fill="#fff" stroke="#000" stroke-width="1"/>
<rect x="1345" y="98" width="1" height="28" fill="#000"/>
<rect x="1343" y="105" width="5" height="9" fill="#000"/>
<rect x="1353" y="98" width="1" height="12" fill="#000"/>
<rect x="1351.5" y="101.5" width="4" height="6" fill="#fff" stroke="#000" stroke-width="1"/>
<rect x="1361" y="85" width="1" height="16" fill="#000"/>
<rect x="1359" y="99" width="5" height="2" fill="#000"/>
<rect x="1369" y="97" width="1" height="14" fill="#000"/>
<rect x="1367" y="100" width="5" height="3" fill="#000"/>
<rect x="1377" y="82" width="1" height="27" fill="#000"/>
<rect x="1375.5" y="83.5" width="4" height="16" fill="#fff" stroke="#000" stroke-width="1"/>
<rect x="1385" y="83" width="1" height="61" fill="#000"/>
<rect x="1383" y="83" width="5" height="29" fill="#000"/>
<rect x="1393" y="83" width="1" height="56" fill="#000"/>
<rect x="1391.5" y="88.5" width="4" height="22" fill="#fff" stroke="#000" stroke-width="1"/>
<rect x="1401" y="75" width="1" height="20" fill="#000"/>
<rect x="1399.5" y="81.5" width="4" height="6" fill="#fff" stroke="#000" stroke-width="1"/>
<rect x="1409" y="81" width="1" height="1" fill="#000"/>
<rect x="1407" y="81" width="5" height="1" fill="#000"/>
</g>
<rect x="1324" y="99" width="159" height="6" fill="#00ff00" shape-rendering="crispEdges"/>
<g shape-rendering="crispEdges" fill="#fff" stroke-width="1">
<rect x="1647.5" y="33.5" width="4" height="4" stroke="#ff0000"/>
<rect x="1647.5" y="124.5" width="4" height="4" stroke="#0000ff"/>
<rect x="1647.5" y="148.5" width="4" height="4" stroke="#0000ff"/>
</g>
<polygon points="1413,29 1424,29 1418.5,34" fill="#c0c0c0"/>
<polygon points="0,35 3,38 0,38" fill="#000"/>
<g shape-rendering="crispEdges" fill="#c0c0c0">
<rect x="1" y="678" width="1" height="22"/>
<rect x="9" y="678" width="1" height="22"/>
<rect x="17" y="678" width="1" height="19"/>
<rect x="25" y="678" width="1" height="16"/>
<rect x="33" y="678" width="1" height="13"/>
<rect x="41" y="678" width="1" height="12"/>
<rect x="49" y="678" width="1" height="11"/>
<rect x="57" y="678" width="1" height="10"/>
<rect x="65" y="678" width="1" height="8"/>
<rect x="73" y="678" width="1" height="6"/>
<rect x="81" y="678" width="1" height="2"/>
<rect x="97" y="676" width="1" height="3"/>
<rect x="105" y="676" width="1" height="3"/>
<rect x="113" y="676" width="1" height="3"/>
<rect x="129" y="678" width="1" height="8"/>
<rect x="137" y="678" width="1" height="20"/>
<rect x="145" y="678" width="1" height="33"/>
<rect x="153" y="678" width="1" height="42"/>
<rect x="161" y="678" width="1" height="55"/>
<rect x="169" y="678" width="1" height="56"/>
<rect x="177" y="678" width="1" height="54"/>
<rect x="185" y="678" width="1" height="52"/>
<rect x="193" y="678" width="1" height="50"/>
<rect x="201" y="678" width="1" height="52"/>
<rect x="209" y="678" width="1" height="47"/>
<rect x="217" y="678" width="1" height="43"/>
<rect x="225" y="678" width="1" height="40"/>
<rect x="233" y="678" width="1" height="46"/>
<rect x="241" y="678" width="1" height="50"/>
<rect x="249" y="678" width="1" height="56"/>
<rect x="257" y="678" width="1" height="61"/>
<rect x="265" y="678" width="1" height="63"/>
<rect x="273" y="678" width="1" height="64"/>
<rect x="281" y="678" width="1" height="62"/>
<rect x="289" y="678" width="1" height="57"/>
<rect x="297" y="678" width="1" height="50"/>
<rect x="305" y="678" width="1" height="53"/>
<rect x="313" y="678" width="1" height="60"/>
<rect x="321" y="678" width="1" height="65"/>
<rect x="329" y="678" width="1" height="67"/>
<rect x="337" y="678" width="1" height="66"/>
<rect x="345" y="678" width="1" height="61"/>
<rect x="353" y="678" width="1" height="54"/>
<rect x="361" y="678" width="1" height="48"/>
<rect x="369" y="678" width="1" height="44"/>
<rect x="377" y="678" width="1" height="37"/>
<rect x="385" y="678" width="1" height="32"/>
<rect x="393" y="678" width="1" height="34"/>
<rect x="401" y="678" width="1" height="37"/>
<rect x="409" y="678" width="1" height="33"/>
<rect x="417" y="678" width="1" height="26"/>
<rect x="425" y="678" width="1" height="19"/>
<rect x="433" y="678" width="1" height="12"/>
<rect x="441" y="678" width="1" height="8"/>
<rect x="449" y="676" width="1" height="3"/>
<rect x="457" y="666" width="1" height="13"/>
<rect x="465" y="658" width="1" height="21"/>
<rect x="473" y="652" width="1" height="27"/>
<rect x="481" y="644" width="1" height="35"/>
<rect x="489" y="634" width="1" height="45"/>
<rect x="497" y="624" width="1" height="55"/>
<rect x="505" y="618" width="1" height="61"/>
<rect x="513" y="614" width="1" height="65"/>
<rect x="521" y="609" width="1" height="70"/>
<rect x="529" y="608" width="1" height="71"/>
<rect x="537" y="605" width="1" height="74"/>
<rect x="545" y="610" width="1" height="69"/>
<rect x="553" y="612" width="1" height="67"/>
<rect x="561" y="614" width="1" height="65"/>
<rect x="569" y="616" width="1" height="63"/>
<rect x="577" y="619" width="1" height="60"/>
<rect x="585" y="623" width="1" height="56"/>
<rect x="593" y="625" width="1" height="54"/>
<rect x="601" y="627" width="1" height="52"/>
<rect x="609" y="629" width="1" height="50"/>
<rect x="617" y="632" width="1" height="47"/>
<rect x="625" y="634" width="1" height="45"/>
<rect x="633" y="634" width="1" height="45"/>
<rect x="641" y="635" width="1" height="44"/>
<rect x="649" y="636" width="1" height="43"/>
<rect x="657" y="635" width="1" height="44"/>
<rect x="665" y="633" width="1" height="46"/>
<rect x="673" y="632" width="1" height="47"/>
<rect x="681" y="631" width="1" height="48"/>
<rect x="689" y="632" width="1" height="47"/>
<rect x="697" y="642" width="1" height="37"/>
<rect x="705" y="646" width="1" height="33"/>
<rect x="713" y="652" width="1" height="27"/>
<rect x="721" y="657" width="1" height="22"/>
<rect x="729" y="660" width="1" height="19"/>
<rect x="737" y="664" width="1" height="15"/>
<rect x="745" y="672" width="1" height="7"/>
<rect x="753" y="676" width="1" height="3"/>
<rect x="769" y="678" width="1" height="5"/>
<rect x="777" y="678" width="1" height="8"/>
<rect x="785" y="678" width="1" height="10"/>
<rect x="793" y="678" width="1" height="15"/>
<rect x="801" y="678" width="1" height="14"/>
<rect x="809" y="678" width="1" height="4"/>
<rect x="817" y="678" width="1" height="2"/>
<rect x="825" y="674" width="1" height="5"/>
<rect x="833" y="667" width="1" height="12"/>
<rect x="841" y="661" width="1" height="18"/>
<rect x="849" y="664" width="1" height="15"/>
<rect x="857" y="664" width="1" height="15"/>
<rect x="865" y="667" width="1" height="12"/>
<rect x="873" y="667" width="1" height="12"/>
<rect x="881" y="668" width="1" height="11"/>
<rect x="889" y="676" width="1" height="3"/>
<rect x="897" y="678" width="1" height="2"/>
<rect x="905" y="678" width="1" height="10"/>
<rect x="913" y="678" width="1" height="20"/>
<rect x="921" y="678" width="1" height="30"/>
<rect x="929" y="678" width="1" height="40"/>
<rect x="937" y="678" width="1" height="46"/>
<rect x="945" y="678" width="1" height="56"/>
<rect x="953" y="678" width="1" height="62"/>
<rect x="961" y="678" width="1" height="60"/>
<rect x="969" y="678" width="1" height="57"/>
<rect x="977" y="678" width="1" height="54"/>
<rect x="985" y="678" width="1" height="49"/>
<rect x="993" y="678" width="1" height="44"/>
<rect x="1001" y="678" width="1" height="35"/>
<rect x="1009" y="678" width="1" height="28"/>
<rect x="1017" y="678" width="1" height="20"/>
<rect x="1025" y="678" width="1" height="16"/>
<rect x="1033" y="678" width="1" height="10"/>
<rect x="1041" y="678" width="1" height="4"/>
<rect x="1057" y="672" width="1" height="7"/>
<rect x="1065" y="667" width="1" height="12"/>
<rect x="1073" y="663" width="1" height="16"/>
<rect x="1081" y="659" width="1" height="20"/>
<rect x="1089" y="654" width="1" height="25"/>
<rect x="1097" y="648" width="1" height="31"/>
<rect x="1105" y="646" width="1" height="33"/>
<rect x="1113" y="645" width="1" height="34"/>
<rect x="1121" y="645" width="1" height="34"/>
<rect x="1129" y="645" width="1" height="34"/>
<rect x="1137" y="641" width="1" height="38"/>
<rect x="1145" y="637" width="1" height="42"/>
<rect x="1153" y="634" width="1" height="45"/>
<rect x="1161" y="632" width="1" height="47"/>
<rect x="1169" y="631" width="1" height="48"/>
<rect x="1177" y="628" width="1" height="51"/>
<rect x="1185" y="625" width="1" height="54"/>
<rect x="1193" y="624" width="1" height="55"/>
<rect x="1201" y="623" width="1" height="56"/>
<rect x="1209" y="624" width="1" height="55"/>
<rect x="1217" y="624" width="1" height="55"/>
<rect x="1225" y="625" width="1" height="54"/>
<rect x="1233" y="626" width="1" height="53"/>
<rect x="1241" y="626" width="1" height="53"/>
<rect x="1249" y="629" width="1" height="50"/>
<rect x="1257" y="631" width="1" height="48"/>
<rect x="1265" y="633" width="1" height="46"/>
<rect x="1273" y="634" width="1" height="45"/>
<rect x="1281" y="636" width="1" height="43"/>
<rect x="1289" y="638" width="1" height="41"/>
<rect x="1297" y="644" width="1" height="35"/>
<rect x="1305" y="648" width="1" height="31"/>
<rect x="1313" y="652" width="1" height="27"/>
<rect x="1321" y="656" width="1" height="23"/>
<rect x="1329" y="658" width="1" height="21"/>
<rect x="1337" y="658" width="1" height="21"/>
<rect x="1345" y="660" width="1" height="19"/>
<rect x="1353" y="660" width="1" height="19"/>
<rect x="1361" y="660" width="1" height="19"/>
<rect x="1369" y="661" width="1" height="18"/>
<rect x="1377" y="660" width="1" height="19"/>
<rect x="1385" y="660" width="1" height="19"/>
<rect x="1393" y="662" width="1" height="17"/>
<rect x="1401" y="661" width="1" height="18"/>
<rect x="1409" y="660" width="1" height="19"/>
</g>
<polyline points="0.0,700.2 10.0,700.2 17.5,698.5 35.0,697.2 60.0,694.2 75.0,691.0 90.0,687.2 105.0,682.8 120.0,680.5 137.5,681.0 150.0,687.2 162.5,696.0 175.0,706.0 185.0,714.8 192.5,718.5 202.5,725.5 215.0,727.2 217.5,729.0 227.5,728.5 232.5,727.0 255.0,727.5 265.0,729.2 282.5,732.2 292.5,735.2 307.5,735.5 320.0,738.5 345.0,738.5 355.0,736.8 375.0,735.2 390.0,728.5 405.0,722.2 425.0,713.0 437.5,707.2 450.0,699.2 457.5,696.0 467.5,687.2 480.0,675.5 492.5,662.8 507.5,647.2 522.5,633.0 535.0,623.5 545.0,616.8 555.0,612.5 567.5,611.5 580.0,611.8 592.5,614.0 605.0,617.8 617.5,620.5 627.5,623.5 640.0,626.8 650.0,629.8 665.0,632.2 682.5,632.5 702.5,634.0 715.0,637.2 725.0,641.0 737.5,645.5 747.5,651.0 760.0,659.8 770.0,664.8 780.0,670.2 792.5,676.5 802.5,682.2 815.0,684.8 827.5,684.8 837.5,681.8 850.0,678.0 860.0,674.0 872.5,669.0 887.5,666.5 900.0,668.5 912.5,673.5 925.0,682.2 937.5,693.5 952.5,708.5 965.0,718.5 980.0,727.2 992.5,730.5 1002.5,730.2 1015.0,726.0 1030.0,714.8 1045.0,704.8 1060.0,693.5 1075.0,682.2 1090.0,673.5 1105.0,662.2 1120.0,654.8 1132.5,649.0 1145.0,646.8 1157.5,641.5 1170.0,639.0 1185.0,634.0 1195.0,632.2 1205.0,628.0 1217.5,626.0 1235.0,625.5 1245.0,624.2 1255.0,624.8 1265.0,626.0 1280.0,628.5 1295.0,631.0 1310.0,633.5 1325.0,640.5 1340.0,645.2 1355.0,649.8 1370.0,655.2 1385.0,658.5 1400.0,660.5 1410.0,661.0" fill="none" stroke="#ff0000" stroke-width="1" stroke-dasharray="3,3"/>
<g shape-rendering="crispEdges" stroke="#c0c0c0" stroke-width="1" stroke-dasharray="3,3">
<line x1="0" y1="790.5" x2="1652" y2="790.5"/>
<line x1="0" y1="841.5" x2="1652" y2="841.5"/>
<line x1="0" y1="902.5" x2="1652" y2="902.5"/>
</g>
<polyline points="1.0,855.2 9.0,859.0 17.0,840.2 25.0,841.0 33.0,843.2 41.0,842.2 49.0,848.2 57.0,847.5 65.0,842.8 73.0,834.5 81.0,828.5 89.0,827.2 97.0,830.8 105.0,839.2 113.0,838.2 121.0,855.2 129.0,875.2 137.0,884.8 145.0,887.8 153.0,891.5 161.0,896.0 169.0,864.0 177.0,860.2 185.0,860.2 193.0,861.5 201.0,868.0 209.0,852.8 217.0,849.5 225.0,851.0 233.0,869.0 241.0,871.5 249.0,874.5 257.0,876.5 265.0,875.2 273.0,871.0 281.0,867.2 289.0,855.8 297.0,847.8 305.0,866.5 313.0,876.0 321.0,871.5 329.0,870.2 337.0,865.8 345.0,856.0 353.0,847.0 361.0,851.0 369.0,847.0 377.0,842.8 385.0,847.2 393.0,856.5 401.0,860.2 409.0,847.8 417.0,837.8 425.0,835.2 433.0,836.0 441.0,834.0 449.0,818.5 457.0,819.5 465.0,818.2 473.0,814.8 481.0,809.8 489.0,805.8 497.0,800.2 505.0,805.2 513.0,805.2 521.0,802.2 529.0,806.5 537.0,803.2 545.0,822.0 553.0,817.2 561.0,817.2 569.0,820.2 577.0,818.5 585.0,825.2 593.0,821.5 601.0,818.5 609.0,819.5 617.0,820.2 625.0,821.5 633.0,814.5 641.0,820.2 649.0,818.2 657.0,811.0 665.0,807.0 673.0,805.2 681.0,810.2 689.0,812.2 697.0,845.2 705.0,840.2 713.0,842.0 721.0,843.2 729.0,841.5 737.0,846.5 745.0,857.2 753.0,852.8 761.0,859.0 769.0,854.5 777.0,858.2 785.0,858.5 793.0,866.0 801.0,849.0 809.0,825.2 817.0,827.2 825.0,821.0 833.0,815.2 841.0,817.0 849.0,841.5 857.0,836.5 865.0,841.0 873.0,835.2 881.0,839.0 889.0,854.8 897.0,858.5 905.0,862.8 913.0,872.0 921.0,875.8 929.0,879.5 937.0,872.2 945.0,882.2 953.0,876.5 961.0,860.8 969.0,857.2 977.0,856.0 985.0,850.8 993.0,848.2 1001.0,837.2 1009.0,836.0 1017.0,836.0 1025.0,838.2 1033.0,832.2 1041.0,827.2 1049.0,826.0 1057.0,821.5 1065.0,821.0 1073.0,819.8 1081.0,816.0 1089.0,810.2 1097.0,807.0 1105.0,814.8 1113.0,815.2 1121.0,822.0 1129.0,817.8 1137.0,807.8 1145.0,804.0 1153.0,803.2 1161.0,803.2 1169.0,803.2 1177.0,798.5 1185.0,794.0 1193.0,799.0 1201.0,798.2 1209.0,802.0 1217.0,800.2 1225.0,805.2 1233.0,801.5 1241.0,799.5 1249.0,805.2 1257.0,805.2 1265.0,805.2 1273.0,800.2 1281.0,803.2 1289.0,805.2 1297.0,826.5 1305.0,837.2 1313.0,833.5 1321.0,839.5 1329.0,834.0 1337.0,827.2 1345.0,831.0 1353.0,826.0 1361.0,824.0 1369.0,824.0 1377.0,816.5 1385.0,836.0 1393.0,827.0 1401.0,822.2 1409.0,821.5" fill="none" stroke="#1e90ff" stroke-width="1"/>
<g shape-rendering="crispEdges" fill="#000">
<rect x="0" y="27" width="1653" height="1"/>
<rect x="0" y="594" width="1653" height="1"/>
<rect x="0" y="596" width="1653" height="1"/>
<rect x="0" y="752" width="1653" height="1"/>
<rect x="0" y="754" width="1653" height="1"/>
<rect x="0" y="928" width="1653" height="1"/>
<rect x="1652" y="27" width="1" height="568"/>
<rect x="1652" y="596" width="1" height="157"/>
<rect x="1652" y="754" width="1" height="175"/>
<rect x="1653" y="30" width="2" height="1"/>
<rect x="1653" y="63" width="2" height="1"/>
<rect x="1653" y="96" width="2" height="1"/>
<rect x="1653" y="129" width="2" height="1"/>
<rect x="1653" y="162" width="2" height="1"/>
<rect x="1653" y="195" width="2" height="1"/>
<rect x="1653" y="228" width="2" height="1"/>
<rect x="1653" y="261" width="2" height="1"/>
<rect x="1653" y="294" width="2" height="1"/>
<rect x="1653" y="327" width="2" height="1"/>
<rect x="1653" y="360" width="2" height="1"/>
<rect x="1653" y="393" width="2" height="1"/>
<rect x="1653" y="426" width="2" height="1"/>
<rect x="1653" y="459" width="2" height="1"/>
<rect x="1653" y="492" width="2" height="1"/>
<rect x="1653" y="525" width="2" height="1"/>
<rect x="1653" y="558" width="2" height="1"/>
<rect x="1653" y="591" width="2" height="1"/>
<rect x="1653" y="598" width="1" height="1"/>
<rect x="1653" y="678" width="1" height="1"/>
<rect x="1653" y="751" width="1" height="1"/>
<rect x="1653" y="756" width="1" height="1"/>
<rect x="1653" y="790" width="1" height="1"/>
<rect x="1653" y="841" width="1" height="1"/>
<rect x="1653" y="902" width="1" height="1"/>
<rect x="1653" y="926" width="1" height="1"/>
<rect x="57" y="929" width="1" height="3"/>
<rect x="121" y="929" width="1" height="3"/>
<rect x="185" y="929" width="1" height="3"/>
<rect x="249" y="929" width="1" height="3"/>
<rect x="313" y="929" width="1" height="3"/>
<rect x="377" y="929" width="1" height="3"/>
<rect x="441" y="929" width="1" height="3"/>
<rect x="505" y="929" width="1" height="3"/>
<rect x="569" y="929" width="1" height="3"/>
<rect x="633" y="929" width="1" height="3"/>
<rect x="697" y="929" width="1" height="3"/>
<rect x="761" y="929" width="1" height="3"/>
<rect x="825" y="929" width="1" height="3"/>
<rect x="889" y="929" width="1" height="3"/>
<rect x="953" y="929" width="1" height="3"/>
<rect x="1017" y="929" width="1" height="3"/>
<rect x="1081" y="929" width="1" height="3"/>
<rect x="1145" y="929" width="1" height="3"/>
<rect x="1209" y="929" width="1" height="3"/>
<rect x="1273" y="929" width="1" height="3"/>
<rect x="1337" y="929" width="1" height="3"/>
<rect x="1401" y="929" width="1" height="3"/>
</g>
<text transform="translate(1657.8 33.9) scale(0.965 1)" font-size="9.6" fill="#000" stroke="#000" stroke-width="0.2">36692.0</text>
<text transform="translate(1657.8 66.9) scale(0.965 1)" font-size="9.6" fill="#000" stroke="#000" stroke-width="0.2">36527.0</text>
<text transform="translate(1657.8 99.9) scale(0.965 1)" font-size="9.6" fill="#000" stroke="#000" stroke-width="0.2">36362.0</text>
<text transform="translate(1657.8 132.9) scale(0.965 1)" font-size="9.6" fill="#000" stroke="#000" stroke-width="0.2">36197.0</text>
<text transform="translate(1657.8 165.9) scale(0.965 1)" font-size="9.6" fill="#000" stroke="#000" stroke-width="0.2">36027.0</text>
<text transform="translate(1657.8 198.9) scale(0.965 1)" font-size="9.6" fill="#000" stroke="#000" stroke-width="0.2">35862.0</text>
<text transform="translate(1657.8 231.9) scale(0.965 1)" font-size="9.6" fill="#000" stroke="#000" stroke-width="0.2">35697.0</text>
<text transform="translate(1657.8 264.9) scale(0.965 1)" font-size="9.6" fill="#000" stroke="#000" stroke-width="0.2">35532.0</text>
<text transform="translate(1657.8 297.9) scale(0.965 1)" font-size="9.6" fill="#000" stroke="#000" stroke-width="0.2">35367.0</text>
<text transform="translate(1657.8 330.9) scale(0.965 1)" font-size="9.6" fill="#000" stroke="#000" stroke-width="0.2">35202.0</text>
<text transform="translate(1657.8 363.9) scale(0.965 1)" font-size="9.6" fill="#000" stroke="#000" stroke-width="0.2">35037.0</text>
<text transform="translate(1657.8 396.9) scale(0.965 1)" font-size="9.6" fill="#000" stroke="#000" stroke-width="0.2">34867.0</text>
<text transform="translate(1657.8 429.9) scale(0.965 1)" font-size="9.6" fill="#000" stroke="#000" stroke-width="0.2">34702.0</text>
<text transform="translate(1657.8 462.9) scale(0.965 1)" font-size="9.6" fill="#000" stroke="#000" stroke-width="0.2">34537.0</text>
<text transform="translate(1657.8 495.9) scale(0.965 1)" font-size="9.6" fill="#000" stroke="#000" stroke-width="0.2">34372.0</text>
<text transform="translate(1657.8 528.9) scale(0.965 1)" font-size="9.6" fill="#000" stroke="#000" stroke-width="0.2">34207.0</text>
<text transform="translate(1657.8 561.9) scale(0.965 1)" font-size="9.6" fill="#000" stroke="#000" stroke-width="0.2">34042.0</text>
<text transform="translate(1657.8 594.9) scale(0.965 1)" font-size="9.6" fill="#000" stroke="#000" stroke-width="0.2">33877.0</text>
<text transform="translate(1656.2 607.4) scale(0.965 1)" font-size="9.6" fill="#000" stroke="#000" stroke-width="0.2">321.42</text>
<text transform="translate(1656.2 681.8) scale(0.965 1)" font-size="9.6" fill="#000" stroke="#000" stroke-width="0.2">0.00</text>
<text transform="translate(1656.2 748.9) scale(0.965 1)" font-size="9.6" fill="#000" stroke="#000" stroke-width="0.2">-291.98</text>
<text transform="translate(1656.2 765.2) scale(0.965 1)" font-size="9.6" fill="#000" stroke="#000" stroke-width="0.2">100</text>
<text transform="translate(1656.2 794.2) scale(0.965 1)" font-size="9.6" fill="#000" stroke="#000" stroke-width="0.2">80</text>
<text transform="translate(1656.2 845.2) scale(0.965 1)" font-size="9.6" fill="#000" stroke="#000" stroke-width="0.2">50</text>
<text transform="translate(1656.2 906.4) scale(0.965 1)" font-size="9.6" fill="#000" stroke="#000" stroke-width="0.2">15</text>
<text transform="translate(1656.2 925.2) scale(0.965 1)" font-size="9.6" fill="#000" stroke="#000" stroke-width="0.2">0</text>
<rect x="1654" y="30" width="41" height="10" fill="#ff0000" shape-rendering="crispEdges"/>
<text transform="translate(1657.8 38.1) scale(0.965 1)" font-size="9.6" fill="#fff" stroke="#fff" stroke-width="0.2">36664.9</text>
<rect x="1654" y="54" width="41" height="10" fill="#ff0000" shape-rendering="crispEdges"/>
<text transform="translate(1657.8 62.1) scale(0.965 1)" font-size="9.6" fill="#fff" stroke="#fff" stroke-width="0.2">36544.6</text>
<rect x="1654" y="76" width="41" height="10" fill="#000000" shape-rendering="crispEdges"/>
<text transform="translate(1657.8 84.1) scale(0.965 1)" font-size="9.6" fill="#fff" stroke="#fff" stroke-width="0.2">36437.0</text>
<rect x="1654" y="98" width="41" height="10" fill="#32cd32" shape-rendering="crispEdges"/>
<text transform="translate(1657.8 106.1) scale(0.965 1)" font-size="9.6" fill="#fff" stroke="#fff" stroke-width="0.2">36325.7</text>
<rect x="1654" y="121" width="41" height="10" fill="#0000ff" shape-rendering="crispEdges"/>
<text transform="translate(1657.8 129.1) scale(0.965 1)" font-size="9.6" fill="#fff" stroke="#fff" stroke-width="0.2">36208.6</text>
<rect x="1654" y="145" width="41" height="10" fill="#0000ff" shape-rendering="crispEdges"/>
<text transform="translate(1657.8 153.1) scale(0.965 1)" font-size="9.6" fill="#fff" stroke="#fff" stroke-width="0.2">36088.3</text>
<text transform="translate(-8.2 941.0) scale(0.995 1)" font-size="9.6" fill="#000" stroke="#000" stroke-width="0.2">23 Nov 2021</text>
<text transform="translate(55.8 941.0) scale(0.995 1)" font-size="9.6" fill="#000" stroke="#000" stroke-width="0.2">24 Nov 12:00</text>
<text transform="translate(119.8 941.0) scale(0.995 1)" font-size="9.6" fill="#000" stroke="#000" stroke-width="0.2">25 Nov 23:00</text>
<text transform="translate(183.8 941.0) scale(0.995 1)" font-size="9.6" fill="#000" stroke="#000" stroke-width="0.2">29 Nov 04:00</text>
<text transform="translate(247.8 941.0) scale(0.995 1)" font-size="9.6" fill="#000" stroke="#000" stroke-width="0.2">30 Nov 12:00</text>
<text transform="translate(311.8 941.0) scale(0.995 1)" font-size="9.6" fill="#000" stroke="#000" stroke-width="0.2">1 Dec 20:00</text>
<text transform="translate(375.8 941.0) scale(0.995 1)" font-size="9.6" fill="#000" stroke="#000" stroke-width="0.2">3 Dec 04:00</text>
<text transform="translate(439.8 941.0) scale(0.995 1)" font-size="9.6" fill="#000" stroke="#000" stroke-width="0.2">6 Dec 08:00</text>
<text transform="translate(503.8 941.0) scale(0.995 1)" font-size="9.6" fill="#000" stroke="#000" stroke-width="0.2">7 Dec 16:00</text>
<text transform="translate(567.8 941.0) scale(0.995 1)" font-size="9.6" fill="#000" stroke="#000" stroke-width="0.2">9 Dec 00:00</text>
<text transform="translate(631.8 941.0) scale(0.995 1)" font-size="9.6" fill="#000" stroke="#000" stroke-width="0.2">10 Dec 08:00</text>
<text transform="translate(695.8 941.0) scale(0.995 1)" font-size="9.6" fill="#000" stroke="#000" stroke-width="0.2">13 Dec 12:00</text>
<text transform="translate(759.8 941.0) scale(0.995 1)" font-size="9.6" fill="#000" stroke="#000" stroke-width="0.2">14 Dec 20:00</text>
<text transform="translate(823.8 941.0) scale(0.995 1)" font-size="9.6" fill="#000" stroke="#000" stroke-width="0.2">16 Dec 04:00</text>
<text transform="translate(887.8 941.0) scale(0.995 1)" font-size="9.6" fill="#000" stroke="#000" stroke-width="0.2">17 Dec 12:00</text>
<text transform="translate(951.8 941.0) scale(0.995 1)" font-size="9.6" fill="#000" stroke="#000" stroke-width="0.2">20 Dec 16:00</text>
<text transform="translate(1015.8 941.0) scale(0.995 1)" font-size="9.6" fill="#000" stroke="#000" stroke-width="0.2">22 Dec 00:00</text>
<text transform="translate(1079.8 941.0) scale(0.995 1)" font-size="9.6" fill="#000" stroke="#000" stroke-width="0.2">23 Dec 08:00</text>
<text transform="translate(1143.8 941.0) scale(0.995 1)" font-size="9.6" fill="#000" stroke="#000" stroke-width="0.2">27 Dec 16:00</text>
<text transform="translate(1207.8 941.0) scale(0.995 1)" font-size="9.6" fill="#000" stroke="#000" stroke-width="0.2">29 Dec 00:00</text>
<text transform="translate(1271.8 941.0) scale(0.995 1)" font-size="9.6" fill="#000" stroke="#000" stroke-width="0.2">30 Dec 08:00</text>
<text transform="translate(1335.8 941.0) scale(0.995 1)" font-size="9.6" fill="#000" stroke="#000" stroke-width="0.2">31 Dec 16:00</text>
<text transform="translate(1399.8 941.0) scale(0.995 1)" font-size="9.6" fill="#000" stroke="#000" stroke-width="0.2">3 Jan 20:00</text>
<text transform="translate(8.0 38.8) scale(0.965 1)" font-size="9.6" fill="#000" stroke="#000" stroke-width="0.2">DJ30-,H4</text>
<text transform="translate(53.3 38.8) scale(0.965 1)" font-size="9.6" fill="#000" stroke="#000" stroke-width="0.2">36436.0</text>
<text transform="translate(89.2 38.8) scale(0.965 1)" font-size="9.6" fill="#000" stroke="#000" stroke-width="0.2">36437.0</text>
<text transform="translate(125.1 38.8) scale(0.965 1)" font-size="9.6" fill="#000" stroke="#000" stroke-width="0.2">36432.0</text>
<text transform="translate(161.0 38.8) scale(0.965 1)" font-size="9.6" fill="#000" stroke="#000" stroke-width="0.2">36437.0</text>
<text transform="translate(-1.0 608.8) scale(0.965 1)" font-size="9.6" fill="#000" stroke="#000" stroke-width="0.2">MACD(12,26,9) 75.37 74.38</text>
<text transform="translate(-1.5 767.0) scale(0.965 1)" font-size="9.6" fill="#000" stroke="#000" stroke-width="0.2">RSI(14) 61.3929</text>
<line x1="1174.0" y1="132.0" x2="1261.7" y2="73.0" stroke="#ff0000" stroke-width="3.2"/>
<polygon points="1269.6,67.7 1263.6,77.5 1258.2,69.6" fill="#ff0000"/>
<line x1="1269.6" y1="67.7" x2="1296.3" y2="124.4" stroke="#ff0000" stroke-width="3.2"/>
<polygon points="1300.3,133.0 1291.5,125.5 1300.2,121.5" fill="#ff0000"/>
<line x1="1300.3" y1="133.0" x2="1363.3" y2="88.3" stroke="#ff0000" stroke-width="3.2"/>
<polygon points="1371.0,82.8 1365.2,92.8 1359.7,85.0" fill="#ff0000"/>
<line x1="1371.0" y1="82.8" x2="1384.9" y2="119.6" stroke="#ff0000" stroke-width="3.2"/>
<polygon points="1388.3,128.5 1380.1,120.4 1389.1,117.0" fill="#ff0000"/>
<line x1="1388.3" y1="128.5" x2="1409.5" y2="91.6" stroke="#ff0000" stroke-width="3.2"/>
<polygon points="1414.2,83.4 1413.1,94.9 1404.8,90.1" fill="#ff0000"/>
<line x1="1265.0" y1="627.2" x2="1326.9" y2="657.1" stroke="#ff0000" stroke-width="3.2"/>
<polygon points="1335.0,661.0 1323.8,661.2 1328.2,652.1" fill="#ff0000"/>
<line x1="1335.0" y1="661.0" x2="1421.0" y2="661.0" stroke="#ff0000" stroke-width="3.2"/>
<polygon points="1430.0,661.0 1420.0,666.0 1420.0,656.0" fill="#ff0000"/>
<line x1="1312.5" y1="828.2" x2="1408.5" y2="825.9" stroke="#ff0000" stroke-width="3.2"/>
<polygon points="1417.5,825.7 1407.6,830.9 1407.4,820.9" fill="#ff0000"/>
</svg>
<div id="trade">
 <div class="btn" style="left:0;top:0;width:48px;height:24px;"><span style="display:inline-block;transform:scaleX(0.86);margin-left:-6px">SELL</span></div>
 <div class="btn" style="left:163px;top:0;width:52px;height:24px;"><span style="display:inline-block;transform:scaleX(0.93);margin-left:-2px">BUY</span></div>
 <div style="position:absolute;left:0;top:23px;width:44px;height:1px;background:#2a2ac0"></div>
 <div style="position:absolute;left:167px;top:23px;width:44px;height:1px;background:#2a2ac0"></div>
 <div style="position:absolute;left:0;top:24px;width:44px;height:1px;background:#8080f0;z-index:2"></div>
 <div style="position:absolute;left:167px;top:24px;width:44px;height:1px;background:#8080f0;z-index:2"></div>
 <div class="bl" style="left:0;top:24px;width:105px;height:33px;"></div>
 <div class="bl" style="left:107px;top:24px;width:108px;height:33px;"></div>
 <div style="position:absolute;left:50px;top:0;width:111px;height:21px;background:#fff;border:1px solid #b0b0b8;box-sizing:border-box;"></div>
 <div style="position:absolute;left:51px;top:1px;width:20px;height:19px;background:linear-gradient(#f4f4f4,#cfcfcf);border-right:1px solid #b0b0b8;box-sizing:border-box;"></div>
 <div style="position:absolute;left:140px;top:1px;width:20px;height:19px;background:linear-gradient(#f4f4f4,#cfcfcf);border-left:1px solid #b0b0b8;box-sizing:border-box;"></div>
 <svg style="position:absolute;left:57px;top:8px" width="8" height="5"><polygon points="0.5,0.5 6.5,0.5 3.5,4" fill="#3c50c8"/></svg>
 <svg style="position:absolute;left:146px;top:8px" width="8" height="5"><polygon points="0.5,4 6.5,4 3.5,0.5" fill="#3c50c8"/></svg>
 <div style="position:absolute;left:72px;top:0;width:64px;height:21px;line-height:23px;text-align:right;font-size:12px;color:#000;">1.00</div>
 <div class="sm" style="left:12.5px;top:41px;">36435</div>
 <div class="dot" style="left:51.5px;top:48px;"></div>
 <div class="big" style="left:57px;top:23px;">5</div>
 <div class="sm" style="left:122.5px;top:41px;">36444</div>
 <div class="dot" style="left:162.5px;top:48px;"></div>
 <div class="big" style="left:169px;top:23px;">5</div>
</div>
</body></html>
